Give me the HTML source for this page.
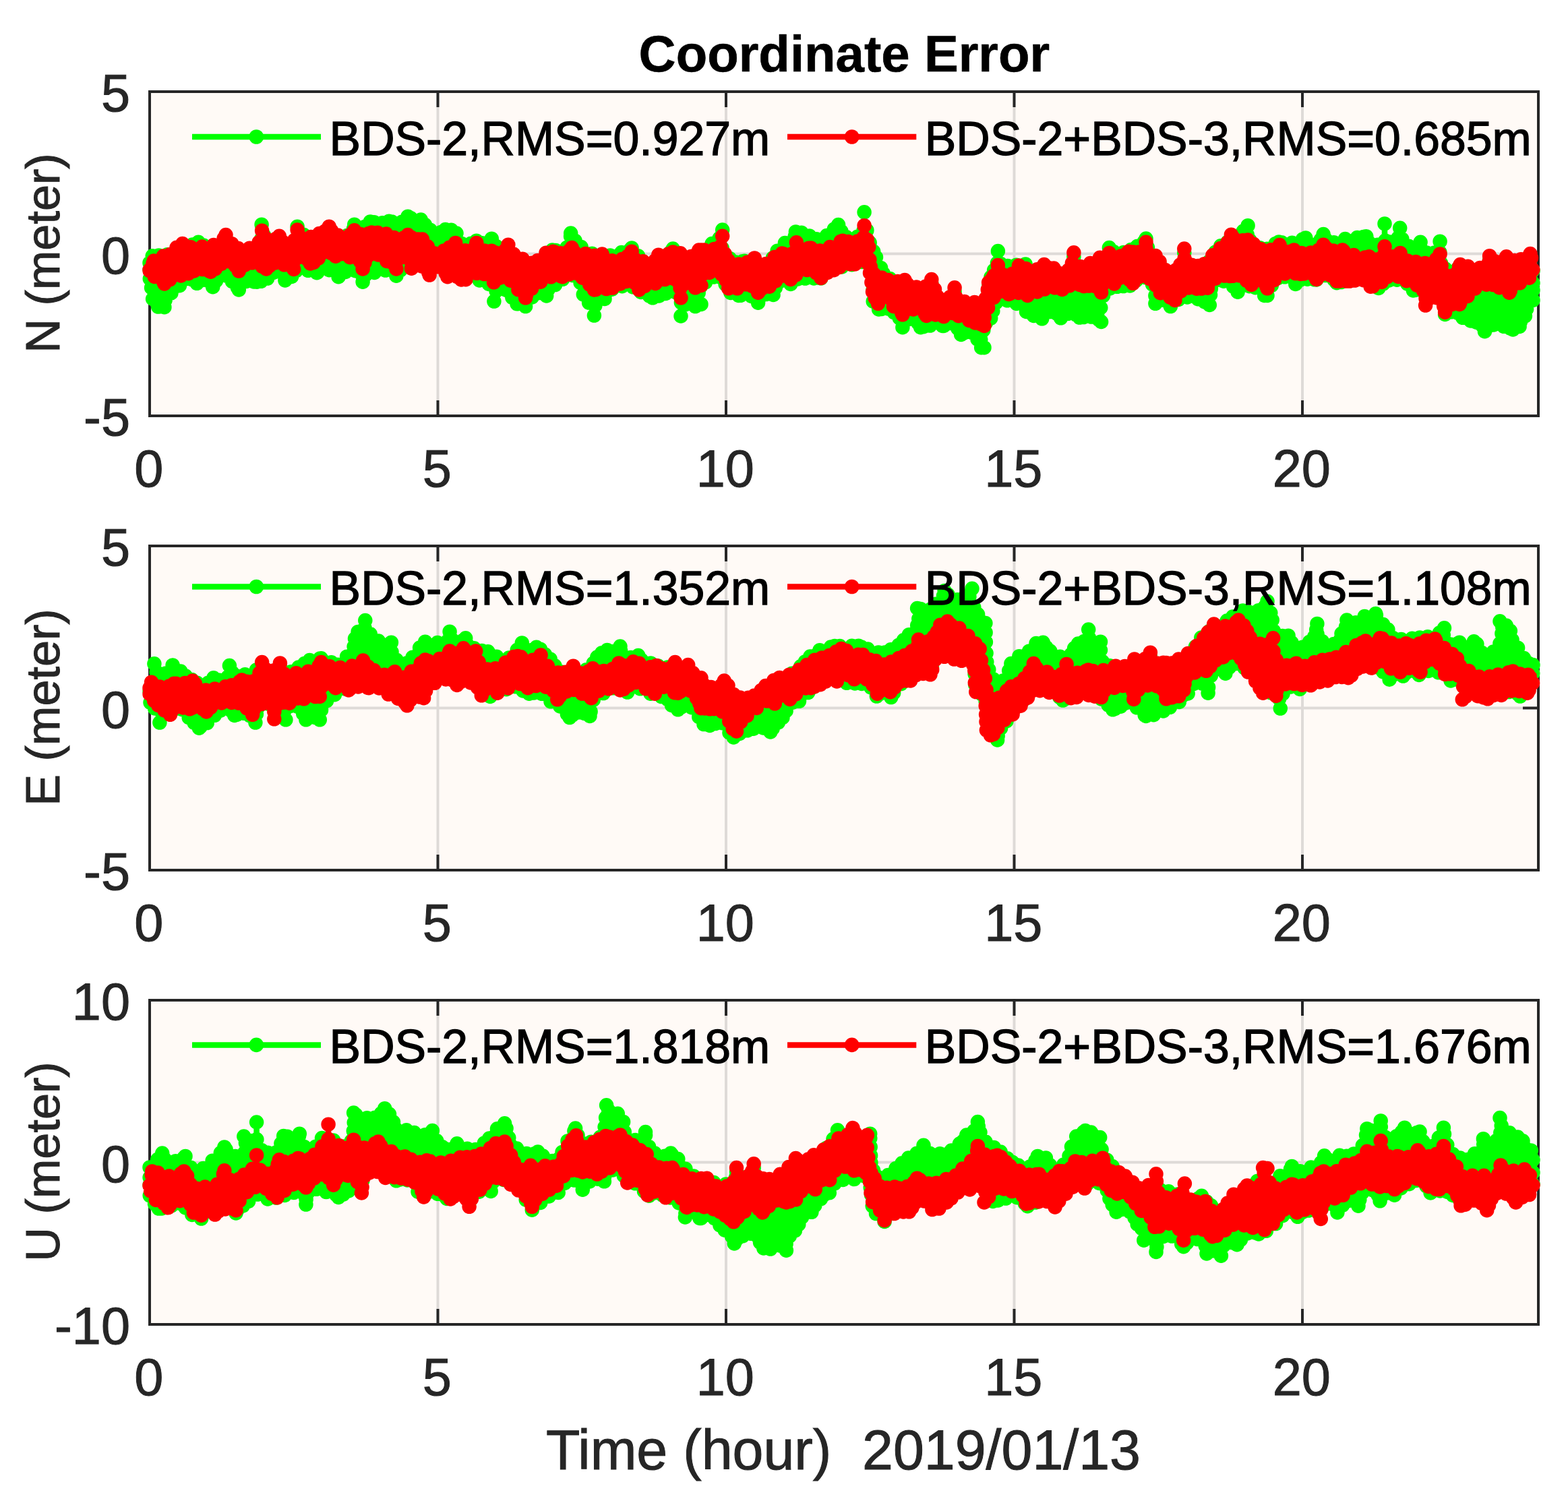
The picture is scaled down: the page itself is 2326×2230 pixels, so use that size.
<!DOCTYPE html>
<html lang="en"><head><meta charset="utf-8"><title>Coordinate Error</title>
<style>html,body{margin:0;padding:0;background:#fff}body{width:2326px;height:2230px;overflow:hidden}svg{display:block}text{font-family:"Liberation Sans", sans-serif}.t{stroke:#262626;stroke-width:1px}</style></head><body>
<svg width="2326" height="2230" viewBox="0 0 2326 2230">
<rect width="2326" height="2230" fill="#fff"/>
<g id="panel1">
<rect x="222" y="136" width="2060" height="481" fill="#fffaf6"/>
<path d="M649.5 136 V617 M1077.0 136 V617 M1504.5 136 V617 M1932.0 136 V617 M222 376.5 H2282" stroke="#dedad7" stroke-width="4" fill="none"/>
<path d="M649.5 136 v23 M649.5 617 v-23 M1077.0 136 v23 M1077.0 617 v-23 M1504.5 136 v23 M1504.5 617 v-23 M1932.0 136 v23 M1932.0 617 v-23 M222 376.5 h23 M2282 376.5 h-23" stroke="#262626" stroke-width="4" fill="none"/>
<rect x="222" y="136" width="2060" height="481" fill="none" stroke="#262626" stroke-width="4"/>
<g><path d="M222.0 412.5 224.0 420.4 226.1 441.2 228.2 451.0 231.2 454.9 238.3 455.3 250.2 437.4 263.0 428.7 272.1 415.6 276.9 413.1 282.2 413.2 292.5 418.9 298.0 416.1 301.0 415.1 304.1 415.0 307.1 415.8 309.7 417.5 315.1 421.9 327.4 410.0 332.6 408.5 335.3 408.8 340.0 411.3 349.2 424.4 352.9 426.9 359.5 420.3 362.0 418.4 364.9 417.3 380.8 418.1 393.2 416.6 404.5 405.3 407.0 403.4 409.8 402.4 412.8 402.1 415.8 402.8 418.5 404.2 426.6 414.0 431.1 412.4 439.5 401.4 441.8 400.0 446.9 398.9 469.4 404.3 481.8 400.5 484.8 400.0 487.9 400.4 502.5 409.0 516.2 401.3 518.6 400.3 523.8 400.2 534.8 405.4 537.3 407.2 539.4 409.8 542.5 407.4 544.9 406.6 577.3 400.0 582.1 401.2 587.9 405.7 593.2 401.4 614.6 389.0 620.1 387.5 623.1 388.0 625.9 389.2 635.0 398.9 639.7 393.4 644.0 390.4 646.5 389.8 651.7 390.4 655.9 393.3 662.7 401.1 667.0 404.3 676.8 403.8 686.9 408.9 694.6 408.5 700.2 409.9 718.0 419.8 729.8 422.5 734.1 426.4 736.1 431.7 739.3 429.1 742.1 428.1 745.0 427.8 747.9 428.4 750.5 429.8 752.7 431.9 769.4 453.9 775.5 454.3 794.4 435.8 796.8 434.7 801.9 434.4 807.5 436.6 813.1 429.7 815.9 427.2 825.0 421.8 836.2 413.0 839.9 411.1 850.3 408.5 855.8 410.0 859.8 414.2 865.8 438.8 871.4 448.3 878.7 451.0 882.0 454.5 883.5 452.4 892.6 447.1 901.0 440.1 906.5 430.9 908.6 428.4 911.3 426.6 914.4 425.8 931.5 423.6 936.9 424.3 947.1 431.5 958.6 437.3 968.8 441.2 980.8 438.0 995.8 432.2 998.8 432.2 1001.6 433.1 1004.1 434.6 1006.0 436.8 1012.3 454.3 1016.8 451.8 1019.6 451.4 1027.8 453.2 1032.7 447.9 1038.2 427.3 1040.7 422.7 1060.4 410.1 1063.4 409.6 1066.3 410.0 1069.0 411.1 1071.4 412.9 1082.7 433.6 1087.2 437.0 1096.2 438.5 1110.2 437.6 1114.9 439.5 1123.2 445.6 1128.5 439.9 1132.6 437.1 1137.5 436.4 1142.8 437.0 1147.0 432.2 1155.7 418.0 1160.8 415.2 1166.6 415.5 1173.3 419.5 1185.1 413.2 1213.8 412.8 1230.1 398.7 1234.4 396.5 1252.6 395.7 1284.1 387.1 1289.6 388.5 1291.8 390.2 1294.7 395.0 1295.2 447.7 1300.3 454.3 1306.6 458.6 1315.5 457.9 1318.6 458.0 1321.5 459.1 1332.6 469.5 1339.9 479.4 1344.9 474.5 1350.1 472.8 1355.4 473.9 1368.8 484.9 1383.5 482.5 1398.3 483.4 1409.4 479.3 1414.8 480.1 1419.2 483.4 1424.9 495.9 1435.2 492.2 1440.8 493.0 1445.2 496.6 1453.6 508.4 1461.4 480.4 1463.1 478.1 1469.1 474.2 1475.4 452.7 1476.6 450.0 1478.5 447.8 1480.9 446.1 1483.7 445.2 1486.6 445.0 1502.2 446.7 1515.5 455.5 1527.4 467.2 1536.3 469.1 1543.7 471.6 1555.4 463.0 1560.7 462.2 1565.8 464.0 1574.5 470.0 1583.8 465.4 1588.7 464.3 1593.6 465.5 1603.6 470.8 1618.2 469.8 1629.5 474.5 1632.5 469.7 1633.0 444.5 1635.4 440.0 1644.8 429.3 1646.9 427.5 1652.0 425.7 1676.4 423.8 1688.7 413.3 1694.0 410.8 1696.9 410.7 1702.3 412.9 1710.7 423.6 1712.8 428.8 1714.6 444.9 1716.6 447.3 1721.2 445.2 1724.3 445.0 1727.3 445.6 1730.0 447.1 1735.8 451.5 1741.9 446.3 1761.8 440.7 1779.4 444.1 1791.8 450.0 1794.6 446.9 1797.0 422.1 1800.1 417.6 1805.1 415.2 1810.5 415.5 1825.5 420.8 1828.9 424.0 1832.0 428.6 1835.0 430.5 1841.7 424.8 1846.5 423.5 1849.0 423.8 1871.7 428.8 1873.8 430.1 1877.7 434.6 1892.9 414.9 1895.3 412.6 1898.2 411.2 1901.4 410.7 1915.1 411.1 1917.8 412.3 1923.7 418.2 1930.9 414.2 1934.2 413.9 1950.6 414.8 1960.9 409.7 1966.3 408.6 1971.6 410.3 1985.3 419.2 1997.1 417.4 2015.1 409.8 2020.1 409.0 2024.9 410.5 2032.4 417.7 2044.9 425.4 2061.3 415.4 2064.3 415.0 2079.9 415.3 2084.7 418.1 2090.6 424.0 2099.2 430.4 2105.0 430.2 2128.5 434.9 2131.5 435.9 2134.0 437.8 2135.9 440.3 2148.7 464.1 2155.9 462.1 2158.9 462.4 2161.7 463.5 2174.1 475.3 2187.6 476.6 2198.6 483.0 2203.2 487.5 2209.9 482.3 2212.9 481.5 2228.9 483.7 2244.1 488.3 2253.7 484.9 2260.2 479.0 2264.7 458.4 2274.0 447.3 2274.0 393.4 2273.2 390.1 2268.3 385.3 2263.3 388.1 2249.7 393.1 2244.1 392.2 2235.9 388.4 2226.8 394.6 2221.5 395.2 2216.5 393.3 2212.2 390.1 2204.1 401.4 2198.8 403.8 2181.9 402.1 2165.4 398.6 2146.0 399.9 2140.9 397.5 2137.8 393.0 2135.2 368.8 2134.5 367.5 2128.7 374.7 2126.1 376.1 2123.2 376.8 2120.3 376.7 2112.1 373.3 2109.7 371.6 2104.5 364.4 2100.8 366.9 2098.3 367.7 2092.9 367.3 2090.5 366.1 2078.8 353.6 2076.2 349.5 2071.9 356.2 2069.8 357.8 2064.7 359.3 2062.0 359.1 2059.5 358.2 2055.6 354.9 2054.3 358.3 2052.6 360.5 2047.8 363.2 2045.1 363.6 2033.8 361.1 2030.9 359.9 2022.5 351.4 2011.0 352.8 2001.3 353.3 1994.3 354.7 1977.1 360.4 1974.2 360.1 1971.4 359.1 1963.1 351.7 1953.9 360.6 1948.9 363.3 1946.0 363.6 1940.6 361.9 1933.5 354.5 1913.1 361.4 1898.2 359.2 1889.5 362.4 1879.9 369.2 1874.7 370.0 1869.8 368.2 1854.6 357.6 1846.8 341.0 1831.8 352.7 1808.2 366.3 1788.2 395.9 1783.8 399.7 1778.2 400.6 1764.8 398.9 1760.4 395.8 1756.8 389.1 1753.4 395.6 1744.8 406.3 1742.7 408.3 1740.1 409.7 1737.2 410.3 1734.2 410.1 1731.5 409.1 1729.1 407.4 1727.2 405.1 1721.0 394.8 1712.3 382.8 1696.9 358.5 1681.5 369.2 1662.7 375.9 1659.5 376.5 1656.4 376.1 1648.3 371.4 1638.1 385.5 1624.0 391.4 1616.7 397.3 1612.6 399.3 1604.0 401.4 1601.0 401.7 1598.0 401.2 1595.3 399.8 1593.0 397.7 1591.3 394.6 1583.7 408.9 1578.8 412.0 1575.9 412.5 1570.3 411.0 1558.1 399.0 1551.8 398.7 1540.4 405.5 1534.9 405.8 1530.0 403.4 1517.5 392.3 1493.2 394.6 1490.0 394.5 1487.1 393.4 1484.5 391.5 1481.2 386.2 1469.8 411.5 1467.9 414.2 1464.2 443.8 1462.2 448.8 1458.0 452.2 1442.5 455.2 1438.9 455.2 1423.1 452.1 1420.5 450.3 1418.6 447.8 1414.5 440.8 1406.2 450.2 1400.9 452.1 1395.4 451.1 1391.1 447.5 1384.1 428.7 1380.8 425.0 1374.9 430.2 1369.8 432.6 1354.1 431.7 1351.0 431.0 1348.3 429.4 1336.7 420.2 1314.4 411.3 1310.9 407.0 1290.5 361.5 1284.7 336.9 1283.6 334.2 1280.6 343.3 1277.8 347.8 1268.2 353.6 1265.4 354.7 1262.4 355.0 1259.4 354.5 1256.7 353.1 1241.9 336.4 1239.5 337.8 1228.1 349.0 1212.9 354.9 1207.8 354.4 1194.6 346.0 1184.7 344.6 1177.1 352.9 1168.0 357.3 1155.4 368.4 1139.1 394.6 1135.1 398.3 1132.6 399.3 1129.8 399.6 1124.6 398.1 1114.3 388.4 1104.7 387.3 1092.6 389.3 1089.5 388.5 1086.9 387.0 1076.1 378.4 1073.9 375.9 1072.5 372.9 1066.4 351.1 1053.7 363.9 1029.8 385.6 1027.0 386.6 1023.9 386.7 1010.3 381.7 1007.4 379.9 997.7 371.8 983.6 381.8 970.0 394.1 964.5 395.3 961.6 394.8 956.9 391.6 939.6 371.7 936.4 369.5 929.1 373.2 925.2 374.3 914.0 375.2 897.4 382.3 894.3 383.1 891.1 382.9 888.1 381.8 862.9 367.3 846.2 350.0 842.6 364.0 841.4 366.8 839.6 369.2 837.1 371.0 834.3 372.0 822.4 371.4 811.2 379.5 796.7 393.4 792.0 396.0 789.3 396.4 784.1 395.1 760.6 382.2 757.4 379.6 748.0 368.1 736.5 365.5 733.3 364.2 727.3 357.8 722.4 360.8 719.9 361.4 714.9 360.8 707.0 357.9 694.7 362.8 689.0 363.5 686.2 362.6 681.8 358.9 677.2 346.3 671.4 341.4 662.7 340.7 649.9 346.3 644.7 346.0 640.3 343.3 630.1 333.1 621.8 326.9 619.3 327.2 616.0 326.4 606.5 322.6 598.4 328.4 593.4 330.3 577.5 328.4 566.6 330.8 562.8 330.9 552.0 329.4 540.2 337.2 534.7 337.8 528.3 335.3 512.1 352.3 507.5 355.2 504.9 355.7 499.6 354.6 487.8 345.1 478.5 351.6 463.2 354.5 460.0 354.5 456.9 353.6 454.2 351.8 445.0 343.5 435.5 364.6 433.3 366.6 430.7 367.9 427.8 368.5 424.9 368.3 422.1 367.3 409.0 355.4 394.1 351.6 390.3 347.9 383.7 365.8 382.1 368.6 379.8 370.8 377.0 372.3 361.7 377.1 359.2 377.0 354.5 375.2 343.8 367.7 334.1 358.2 322.3 367.3 319.7 368.8 316.9 369.5 313.9 369.5 311.1 368.5 293.6 360.2 274.6 366.7 250.4 377.3 246.9 378.1 223.9 380.0 222.0 381.8Z" fill="#00ff00" stroke="#00ff00" stroke-width="11.5" stroke-linejoin="round"/><path d="M294.3 359.3v21.5M335.0 354.6v21.5M388.1 333.2v21.5M441.1 336.2v21.5M488.2 342.2v21.5M525.7 333.2v21.5M549.3 328.9v21.5M577.1 328.2v21.5M605.0 321.2v21.5M624.3 326.1v21.5M660.7 340.5v21.5M706.8 357.2v21.5M729.3 354.2v21.5M819.3 371.1v21.5M846.7 346.0v21.5M937.1 367.9v21.5M998.2 369.0v21.5M1071.7 341.1v21.5M1104.3 387.2v21.5M1180.4 343.9v21.5M1243.6 333.6v21.5M1282.1 314.8v21.5M1381.8 420.6v21.5M1416.1 432.8v21.5M1480.4 372.6v21.5M1521.1 391.9v21.5M1548.9 398.5v21.5M1592.9 380.8v21.5M1645.4 367.5v21.5M1700.0 354.0v21.5M1756.8 375.0v21.5M1851.1 334.7v21.5M1897.1 358.9v21.5M1936.8 352.9v21.5M1963.1 347.5v21.5M2026.8 350.8v21.5M2054.0 331.9v21.5M2076.7 338.3v21.5M2107.1 359.3v21.5M2136.1 358.2v21.5M2166.1 398.5v21.5M2209.6 385.7v21.5M2234.6 386.8v21.5M2270.0 382.5v21.5M243.9 455.7v-21.5M292.1 420.3v-21.5M315.7 425.7v-21.5M354.3 430.0v-21.5M381.1 418.2v-21.5M422.9 416.0v-21.5M470.0 404.7v-21.5M502.1 410.7v-21.5M538.1 418.2v-21.5M587.9 409.2v-21.5M637.1 402.1v-21.5M663.9 404.7v-21.5M684.3 409.0v-21.5M732.9 447.1v-21.5M779.6 454.6v-21.5M810.7 439.0v-21.5M881.4 468.1v-21.5M968.2 441.8v-21.5M1010.0 469.0v-21.5M1031.4 454.6v-21.5M1040.0 451.4v-21.5M1095.7 438.5v-21.5M1124.6 449.2v-21.5M1147.1 437.5v-21.5M1172.9 421.4v-21.5M1217.9 412.8v-21.5M1303.6 458.9v-21.5M1338.9 485.7v-21.5M1365.7 485.7v-21.5M1400.0 483.5v-21.5M1425.7 496.4v-21.5M1455.7 515.7v-21.5M1460.0 515.7v-21.5M1545.7 472.8v-21.5M1573.6 471.8v-21.5M1601.4 471.1v-21.5M1633.6 477.5v-21.5M1713.9 450.3v-21.5M1736.4 454.6v-21.5M1794.3 452.5v-21.5M1836.1 433.2v-21.5M1875.7 438.5v-21.5M1880.0 438.5v-21.5M1921.8 421.4v-21.5M1952.9 415.0v-21.5M1982.9 419.7v-21.5M2045.0 427.4v-21.5M2096.4 431.0v-21.5M2143.6 466.4v-21.5M2202.5 491.7v-21.5M2244.3 488.9v-21.5" fill="none" stroke="#00ff00" stroke-width="8.5"/><path d="M222.3 413.6h0M224.6 426.9h0M226.6 443.5h0M234.6 455.1h0M245.3 444.8h0M253.9 434.9h0M266.4 423.7h0M276.0 413.6h0M285.2 414.9h0M297.2 416.5h0M306.4 415.6h0M320.5 416.6h0M336.0 409.2h0M344.5 417.7h0M352.4 426.6h0M365.5 417.4h0M376.5 417.9h0M387.2 417.3h0M396.7 413.1h0M405.6 404.5h0M419.4 405.3h0M432.6 410.5h0M439.4 401.6h0M457.0 401.3h0M471.1 403.8h0M488.4 400.7h0M503.3 408.5h0M512.5 403.4h0M527.0 401.7h0M536.1 406.3h0M542.8 407.3h0M555.4 404.5h0M571.8 401.1h0M585.3 403.7h0M593.9 401.0h0M608.9 392.3h0M625.7 389.2h0M633.6 397.3h0M643.1 391.0h0M656.8 394.4h0M670.7 404.1h0M680.5 405.7h0M694.3 408.6h0M711.3 416.0h0M725.2 421.5h0M736.1 431.7h0M751.1 430.3h0M759.8 441.3h0M767.0 450.8h0M779.0 450.9h0M789.2 440.9h0M799.3 434.6h0M813.1 429.6h0M823.6 422.6h0M834.6 414.3h0M850.0 408.6h0M861.1 419.4h0M865.3 436.8h0M873.6 449.1h0M882.8 453.4h0M897.0 443.4h0M907.9 429.2h0M922.9 424.7h0M939.0 425.8h0M950.9 433.4h0M963.5 439.2h0M977.7 438.9h0M987.6 435.4h0M1002.4 433.6h0M1010.4 448.8h0M1016.5 452.0h0M1031.2 449.6h0M1036.2 434.6h0M1039.4 425.0h0M1046.5 419.0h0M1059.1 410.9h0M1069.6 411.6h0M1076.1 421.6h0M1083.9 434.5h0M1098.5 438.3h0M1114.6 439.4h0M1125.9 442.7h0M1136.2 436.6h0M1144.4 435.1h0M1150.3 426.9h0M1156.2 417.8h0M1169.3 417.1h0M1183.5 414.0h0M1194.4 413.1h0M1207.3 412.9h0M1222.7 405.1h0M1233.0 397.2h0M1248.9 395.9h0M1263.7 392.7h0M1278.8 388.6h0M1291.6 390.0h0M1294.7 403.6h0M1294.9 419.6h0M1295.0 430.3h0M1295.2 447.2h0M1307.9 458.5h0M1317.4 458.0h0M1326.3 463.6h0M1334.3 471.9h0M1340.3 479.1h0M1348.6 473.3h0M1362.0 479.3h0M1370.1 484.7h0M1379.7 483.1h0M1398.1 483.4h0M1410.3 479.5h0M1421.0 487.4h0M1429.1 494.4h0M1441.0 493.2h0M1449.9 503.2h0M1454.8 504.0h0M1458.8 489.8h0M1462.5 479.0h0M1469.7 472.1h0M1472.8 461.4h0M1477.3 449.2h0M1494.2 445.8h0M1508.0 450.5h0M1522.5 462.4h0M1533.4 468.5h0M1544.3 471.1h0M1557.8 462.6h0M1567.9 465.5h0M1584.3 465.3h0M1596.5 467.1h0M1607.3 470.6h0M1618.9 470.1h0M1629.8 474.1h0M1632.8 456.5h0M1636.6 438.6h0M1646.4 427.9h0M1657.3 425.3h0M1666.4 424.6h0M1676.2 423.9h0M1685.3 416.2h0M1698.9 411.6h0M1709.5 422.0h0M1713.9 438.7h0M1724.0 445.0h0M1734.8 450.7h0M1748.2 444.5h0M1761.2 440.9h0M1777.1 443.7h0M1787.1 447.8h0M1795.5 437.5h0M1796.4 428.3h0M1803.2 416.1h0M1815.2 417.2h0M1829.7 425.2h0M1837.1 428.6h0M1853.4 424.7h0M1862.2 426.7h0M1876.5 433.2h0M1886.4 423.3h0M1895.4 412.6h0M1905.8 410.8h0M1918.2 412.7h0M1928.6 415.5h0M1939.4 414.2h0M1950.0 414.8h0M1966.1 408.6h0M1978.9 415.0h0M1989.4 418.6h0M2003.9 414.5h0M2018.3 409.3h0M2027.4 412.9h0M2039.2 421.9h0M2051.8 421.2h0M2060.4 415.9h0M2072.3 415.2h0M2087.9 421.2h0M2099.4 430.4h0M2110.5 431.3h0M2123.2 433.8h0M2135.1 439.3h0M2142.9 453.3h0M2153.9 462.7h0M2163.0 464.7h0M2169.8 471.3h0M2181.6 476.0h0M2190.3 478.2h0M2199.3 483.7h0M2206.9 484.7h0M2215.8 481.9h0M2230.8 484.3h0M2240.4 487.2h0M2254.1 484.5h0M2262.4 468.8h0M2264.6 458.6h0M2274.0 445.4h0M2274.0 430.6h0M2274.0 419.9h0M2274.0 401.4h0M2269.6 386.6h0M2258.5 389.9h0M2241.5 391.0h0M2232.7 390.6h0M2217.0 393.4h0M2205.4 399.5h0M2196.7 403.6h0M2178.7 401.4h0M2162.2 398.8h0M2144.2 399.1h0M2137.5 390.3h0M2135.8 374.0h0M2127.9 375.1h0M2116.2 375.0h0M2108.5 370.0h0M2102.6 365.7h0M2089.7 365.3h0M2079.8 354.7h0M2074.1 352.8h0M2061.5 358.9h0M2054.8 357.0h0M2043.7 363.3h0M2030.3 359.4h0M2022.6 351.5h0M2013.3 352.5h0M1995.4 354.5h0M1978.7 359.8h0M1966.0 354.3h0M1959.2 355.5h0M1947.7 363.4h0M1932.5 354.9h0M1916.7 360.2h0M1901.1 359.7h0M1892.2 361.4h0M1879.7 369.2h0M1868.9 367.7h0M1854.0 356.4h0M1850.2 348.1h0M1844.2 343.1h0M1830.0 353.8h0M1821.2 358.9h0M1810.8 364.8h0M1803.1 373.9h0M1793.1 388.6h0M1782.4 399.9h0M1764.4 398.6h0M1757.5 390.5h0M1752.7 396.4h0M1745.0 406.1h0M1730.1 408.1h0M1721.6 395.7h0M1711.0 380.7h0M1702.4 367.1h0M1697.1 358.8h0M1687.3 365.2h0M1677.7 370.5h0M1666.7 374.5h0M1652.0 373.6h0M1642.9 378.8h0M1630.4 388.7h0M1622.3 392.8h0M1606.4 400.8h0M1596.2 400.3h0M1587.2 402.3h0M1574.7 412.1h0M1566.8 407.5h0M1555.9 398.9h0M1539.0 405.6h0M1530.5 403.6h0M1519.9 394.5h0M1507.6 393.2h0M1494.8 394.5h0M1484.6 391.6h0M1479.4 390.2h0M1474.6 400.9h0M1470.0 411.0h0M1466.9 422.3h0M1464.7 440.2h0M1454.1 453.0h0M1442.7 455.1h0M1433.5 454.1h0M1422.2 451.5h0M1411.7 443.9h0M1403.9 451.0h0M1390.7 446.3h0M1387.2 437.0h0M1381.7 425.9h0M1373.5 430.9h0M1358.8 432.0h0M1347.0 428.3h0M1333.4 418.8h0M1320.2 413.6h0M1310.4 405.8h0M1306.6 397.4h0M1299.5 381.5h0M1295.7 373.0h0M1290.2 360.1h0M1285.9 341.7h0M1280.8 342.8h0M1272.0 351.3h0M1255.6 351.8h0M1247.9 343.2h0M1237.4 339.9h0M1226.4 349.6h0M1211.2 354.8h0M1200.7 349.9h0M1188.9 345.2h0M1179.3 350.5h0M1164.4 360.5h0M1153.1 372.2h0M1146.5 382.7h0M1137.1 396.5h0M1123.5 397.1h0M1115.2 389.2h0M1101.6 387.8h0M1091.8 389.1h0M1082.4 383.4h0M1075.0 377.1h0M1071.2 368.2h0M1067.1 353.6h0M1056.1 361.6h0M1043.3 373.4h0M1035.0 380.9h0M1018.9 384.8h0M1007.5 380.0h0M995.2 373.6h0M983.0 382.3h0M972.8 391.5h0M958.7 392.8h0M946.6 379.7h0M935.1 370.2h0M921.9 374.6h0M905.1 379.0h0M889.5 382.3h0M878.3 376.2h0M862.2 366.6h0M853.1 357.2h0M846.6 350.4h0M841.1 367.2h0M824.4 371.5h0M812.4 378.7h0M800.4 389.9h0M786.6 395.7h0M777.6 391.5h0M762.7 383.4h0M751.9 372.8h0M735.8 365.2h0M725.3 359.0h0M714.2 360.5h0M698.6 361.3h0M684.9 361.5h0M677.0 346.1h0M669.3 341.2h0M654.2 344.4h0M638.2 341.2h0M630.5 333.6h0M622.6 327.6h0M609.5 323.8h0M596.3 329.2h0M581.2 328.9h0M567.2 330.7h0M554.9 329.8h0M541.0 336.6h0M524.5 339.3h0M514.8 349.5h0M504.0 355.5h0M488.5 345.7h0M479.7 350.8h0M465.6 354.0h0M450.3 348.2h0M441.0 352.4h0M433.1 366.7h0M419.0 364.4h0M409.0 355.4h0M391.7 349.3h0M387.8 354.4h0M383.1 366.8h0M372.2 373.8h0M356.7 376.0h0M346.7 369.7h0M338.5 362.4h0M328.3 362.7h0M315.0 369.5h0M301.9 364.1h0M285.5 363.0h0M272.6 367.6h0M262.5 372.0h0M248.2 377.8h0M235.4 379.1h0M226.2 379.8h0M222.0 389.9h0M222.0 400.0h0M294.3 359.3h0M335.0 354.6h0M388.1 333.2h0M441.1 336.2h0M488.2 342.2h0M525.7 333.2h0M549.3 328.9h0M577.1 328.2h0M605.0 321.2h0M624.3 326.1h0M660.7 340.5h0M706.8 357.2h0M729.3 354.2h0M819.3 371.1h0M846.7 346.0h0M937.1 367.9h0M998.2 369.0h0M1071.7 341.1h0M1104.3 387.2h0M1180.4 343.9h0M1243.6 333.6h0M1282.1 314.8h0M1381.8 420.6h0M1416.1 432.8h0M1480.4 372.6h0M1521.1 391.9h0M1548.9 398.5h0M1592.9 380.8h0M1645.4 367.5h0M1700.0 354.0h0M1756.8 375.0h0M1851.1 334.7h0M1897.1 358.9h0M1936.8 352.9h0M1963.1 347.5h0M2026.8 350.8h0M2054.0 331.9h0M2076.7 338.3h0M2107.1 359.3h0M2136.1 358.2h0M2166.1 398.5h0M2209.6 385.7h0M2234.6 386.8h0M2270.0 382.5h0M243.9 455.7h0M292.1 420.3h0M315.7 425.7h0M354.3 430.0h0M381.1 418.2h0M422.9 416.0h0M470.0 404.7h0M502.1 410.7h0M538.1 418.2h0M587.9 409.2h0M637.1 402.1h0M663.9 404.7h0M684.3 409.0h0M732.9 447.1h0M779.6 454.6h0M810.7 439.0h0M881.4 468.1h0M968.2 441.8h0M1010.0 469.0h0M1031.4 454.6h0M1040.0 451.4h0M1095.7 438.5h0M1124.6 449.2h0M1147.1 437.5h0M1172.9 421.4h0M1217.9 412.8h0M1303.6 458.9h0M1338.9 485.7h0M1365.7 485.7h0M1400.0 483.5h0M1425.7 496.4h0M1455.7 515.7h0M1460.0 515.7h0M1545.7 472.8h0M1573.6 471.8h0M1601.4 471.1h0M1633.6 477.5h0M1713.9 450.3h0M1736.4 454.6h0M1794.3 452.5h0M1836.1 433.2h0M1875.7 438.5h0M1880.0 438.5h0M1921.8 421.4h0M1952.9 415.0h0M1982.9 419.7h0M2045.0 427.4h0M2096.4 431.0h0M2143.6 466.4h0M2202.5 491.7h0M2244.3 488.9h0" fill="none" stroke="#00ff00" stroke-width="21.5" stroke-linecap="round"/><path d="M222.0 401.6 230.5 411.9 243.9 419.4 256.9 412.1 277.8 406.5 294.2 399.1 299.2 399.3 311.5 402.5 322.3 397.5 329.5 390.3 334.1 387.5 336.8 387.1 342.0 388.3 354.8 399.0 367.2 390.1 372.3 389.3 381.3 391.9 394.2 397.6 405.5 390.8 410.4 389.3 415.4 390.2 431.4 397.0 438.4 385.7 440.3 383.4 442.8 381.7 445.7 380.8 448.7 380.7 451.6 381.5 463.0 390.0 469.2 388.5 476.1 376.6 478.2 374.8 483.4 373.2 488.8 374.3 498.6 379.3 507.5 376.4 512.6 377.2 524.9 385.7 534.8 388.3 537.1 389.8 539.4 392.6 545.1 380.5 547.4 378.4 550.1 377.0 553.1 376.4 556.2 376.7 564.8 378.9 569.3 381.2 577.9 393.2 583.5 395.8 591.0 383.8 595.6 381.1 600.9 380.9 605.7 383.4 614.1 395.2 617.6 393.8 620.1 393.5 623.1 394.0 625.9 395.2 635.0 404.9 641.7 397.6 646.5 395.8 649.1 395.8 654.0 397.6 662.7 407.1 667.0 410.3 676.8 409.8 686.9 414.9 691.2 414.7 699.2 408.6 702.3 406.9 708.7 404.8 711.8 404.3 714.8 404.6 728.4 412.2 733.6 416.4 741.7 412.1 744.9 411.8 748.1 412.4 758.8 416.7 762.1 420.2 767.1 428.6 775.5 433.6 780.2 437.9 785.3 433.7 790.8 424.5 794.3 420.9 808.3 415.9 820.5 409.0 825.7 408.7 834.3 410.5 840.8 409.2 848.1 404.8 851.0 404.3 853.9 404.5 856.7 405.6 859.0 407.4 873.5 420.8 877.9 426.1 884.1 429.8 897.3 428.9 913.3 426.3 921.9 419.5 927.0 417.2 940.9 418.9 945.1 421.7 950.3 427.5 958.0 423.6 961.8 422.5 970.1 421.7 978.8 416.5 982.5 415.1 998.0 412.9 1003.0 414.6 1006.6 418.5 1009.9 430.2 1010.7 426.2 1012.0 423.8 1016.2 420.2 1021.7 419.3 1026.7 421.1 1031.6 410.4 1033.7 408.4 1036.3 407.0 1039.2 406.4 1042.1 406.6 1045.1 407.7 1047.8 405.5 1050.2 404.6 1063.6 404.2 1068.6 405.5 1070.8 407.0 1085.9 427.8 1091.4 427.8 1104.3 422.3 1109.3 421.4 1114.2 423.0 1124.4 431.9 1132.6 426.4 1142.7 425.0 1147.8 420.5 1153.5 412.8 1155.7 410.7 1158.4 409.2 1161.4 408.6 1164.5 408.8 1173.6 413.4 1179.2 411.2 1181.0 406.9 1185.2 403.2 1198.6 400.2 1201.6 400.0 1204.5 400.7 1207.2 402.1 1217.6 409.8 1223.9 405.3 1233.4 402.7 1253.7 391.8 1264.1 391.7 1272.9 384.0 1278.5 382.8 1283.9 384.7 1287.6 389.0 1292.7 417.5 1294.8 435.5 1299.3 444.6 1301.8 446.6 1307.8 441.1 1310.4 440.0 1316.0 440.0 1320.8 442.7 1322.5 444.9 1325.9 455.9 1333.2 461.8 1338.1 464.7 1346.4 458.7 1351.6 457.9 1367.0 462.7 1376.6 468.2 1392.7 466.5 1399.4 468.6 1408.2 464.5 1413.2 464.5 1428.0 471.6 1454.5 482.2 1458.8 474.7 1468.2 449.8 1478.7 434.7 1484.0 432.3 1489.7 432.9 1497.6 436.0 1509.9 434.3 1523.7 437.9 1532.4 434.6 1544.1 431.6 1556.1 426.0 1560.9 425.9 1574.5 429.0 1586.0 423.9 1597.4 421.4 1609.0 424.5 1622.5 423.7 1627.4 425.9 1633.5 430.7 1633.9 425.0 1634.9 422.5 1636.5 420.4 1641.0 417.6 1646.2 417.3 1651.3 419.2 1661.3 411.6 1666.5 410.7 1671.5 412.4 1680.1 417.9 1689.1 410.8 1694.2 408.6 1699.7 409.3 1712.5 418.8 1720.6 434.4 1740.2 443.0 1747.7 434.6 1750.9 432.2 1762.5 426.9 1775.6 428.2 1790.4 427.9 1796.8 422.8 1804.1 411.4 1806.5 409.7 1809.3 408.7 1824.3 409.6 1839.3 408.8 1842.3 409.8 1852.1 419.0 1855.5 420.7 1863.6 415.6 1869.4 415.2 1874.5 417.9 1880.1 426.5 1881.8 425.7 1892.6 413.0 1907.3 405.4 1910.3 404.4 1929.4 406.3 1941.5 405.4 1946.3 407.3 1952.9 412.1 1961.9 406.0 1967.5 405.5 1972.6 407.8 1978.4 412.6 1985.8 417.1 2001.5 417.1 2018.0 415.0 2021.2 415.1 2024.3 416.2 2032.1 423.4 2035.3 425.0 2041.1 424.3 2050.9 417.4 2058.8 410.1 2061.2 409.0 2066.4 408.7 2079.4 411.6 2088.6 418.2 2099.8 421.9 2103.4 424.0 2112.8 432.5 2114.7 437.8 2115.3 447.5 2120.7 442.3 2123.2 441.2 2128.6 440.9 2131.1 441.8 2135.2 445.3 2144.0 457.5 2148.6 453.0 2151.3 451.8 2162.1 451.4 2172.6 445.4 2180.4 434.8 2190.0 426.3 2192.6 424.6 2195.5 423.7 2209.4 421.5 2212.8 421.5 2238.0 432.9 2246.1 427.9 2257.7 416.7 2268.5 412.1 2273.7 407.6 2274.0 385.1 2268.3 379.3 2263.3 382.1 2249.7 387.1 2244.1 386.2 2235.9 382.4 2226.8 388.6 2221.5 389.2 2216.5 387.3 2212.2 384.1 2204.1 395.4 2198.8 397.8 2181.9 396.1 2167.8 393.1 2164.9 394.7 2161.0 404.1 2157.4 408.7 2154.9 410.1 2149.1 410.6 2146.4 409.7 2142.0 405.8 2135.8 387.2 2133.2 382.6 2124.3 389.3 2121.7 390.8 2118.7 391.4 2103.4 388.8 2085.4 386.6 2081.3 384.0 2074.8 377.5 2067.0 380.6 2064.1 380.7 2058.8 378.5 2055.2 374.4 2050.3 382.0 2047.9 383.8 2045.1 384.8 2042.1 385.0 2039.2 384.4 2030.1 381.1 2021.2 382.7 2017.8 382.8 2014.5 381.8 2004.3 376.7 1989.9 371.2 1977.2 372.2 1972.5 371.4 1963.5 365.7 1952.8 373.4 1937.5 376.3 1932.3 375.9 1919.3 371.6 1910.7 373.9 1907.8 374.3 1904.8 373.9 1902.1 372.7 1899.9 370.8 1895.6 366.0 1884.6 371.2 1879.8 372.2 1873.1 370.8 1869.5 369.2 1859.4 362.0 1848.8 356.4 1837.8 357.1 1833.1 355.2 1828.2 351.8 1817.6 363.4 1805.5 371.8 1785.4 392.8 1780.7 394.6 1778.2 394.6 1764.8 392.9 1760.4 389.8 1756.8 383.1 1753.4 389.6 1744.8 400.3 1742.7 402.3 1740.1 403.7 1737.2 404.3 1734.2 404.1 1731.5 403.1 1729.1 401.4 1714.3 379.5 1703.5 373.7 1698.6 366.7 1695.3 370.6 1691.2 373.5 1686.3 374.3 1676.4 373.5 1661.3 380.6 1658.3 380.7 1655.4 380.0 1645.7 376.3 1624.0 385.4 1614.8 392.5 1604.0 395.4 1601.0 395.7 1598.0 395.2 1595.3 393.8 1593.0 391.7 1591.3 388.6 1583.7 402.9 1578.8 406.0 1573.0 406.1 1570.3 405.0 1558.1 393.0 1551.8 392.7 1542.9 398.4 1539.7 399.7 1536.3 400.0 1523.4 398.9 1514.6 396.0 1506.4 404.9 1494.8 408.3 1491.7 408.6 1488.7 408.0 1485.9 406.6 1480.9 401.0 1475.4 408.3 1472.8 409.9 1467.6 411.0 1464.2 437.8 1462.2 442.8 1458.0 446.2 1455.3 447.0 1442.5 449.2 1438.9 449.2 1423.1 446.1 1420.5 444.3 1418.6 441.8 1414.5 434.8 1406.2 444.2 1400.9 446.1 1395.4 445.1 1391.1 441.5 1384.1 422.7 1380.8 419.0 1374.9 424.2 1369.8 426.6 1354.1 425.7 1351.0 425.0 1348.3 423.4 1339.3 416.2 1329.1 418.1 1323.7 417.7 1309.8 413.0 1295.8 406.2 1293.9 404.3 1291.9 399.4 1289.6 383.4 1288.6 363.3 1283.6 346.6 1279.8 354.3 1275.4 357.5 1264.2 359.2 1250.4 357.4 1245.5 358.6 1232.7 366.0 1217.4 372.0 1212.3 371.6 1201.6 368.1 1190.3 368.8 1187.6 367.9 1184.1 365.4 1179.9 372.3 1177.9 374.7 1175.3 376.5 1172.4 377.4 1169.2 377.4 1160.5 376.2 1154.0 377.8 1136.7 391.3 1132.0 393.4 1129.4 393.6 1124.5 392.1 1117.2 385.2 1110.2 388.6 1099.1 392.5 1085.4 390.7 1081.1 387.7 1079.7 385.5 1072.2 370.5 1069.9 364.7 1066.8 367.5 1055.5 370.8 1040.6 371.1 1031.8 378.3 1026.6 380.6 1021.0 380.0 1011.4 376.1 999.3 374.2 990.1 377.5 981.1 378.2 970.4 387.9 965.7 389.3 944.0 386.4 939.3 383.0 935.1 377.5 928.5 382.0 921.0 385.2 917.8 386.1 903.1 387.0 898.0 384.6 890.2 377.9 880.0 379.7 867.8 376.6 858.4 377.4 855.5 376.6 853.0 375.0 847.3 370.1 840.1 374.7 834.7 376.5 820.1 373.5 809.4 375.3 796.7 387.4 792.0 390.0 789.3 390.4 784.1 389.1 760.6 376.2 757.4 373.6 753.0 368.2 744.9 375.3 742.0 376.3 739.0 376.4 727.2 372.2 715.8 371.8 711.0 369.0 706.2 364.2 699.8 369.6 695.4 371.9 683.5 371.8 680.8 370.6 678.5 368.7 673.6 363.3 653.3 375.0 650.4 376.1 647.4 376.5 644.4 375.9 641.7 374.5 631.6 362.6 622.5 355.0 615.4 354.7 605.0 349.9 597.0 353.9 592.1 355.0 587.3 353.9 573.8 347.1 563.2 345.4 552.7 345.0 538.8 348.6 533.5 347.3 526.6 343.7 518.4 349.1 515.0 349.7 504.3 349.7 499.5 348.5 487.8 339.1 478.5 345.6 465.8 348.0 459.3 352.9 454.4 354.9 451.7 355.0 446.6 353.1 442.2 348.3 434.4 359.7 429.7 362.2 427.1 362.5 421.9 361.2 412.5 352.7 406.5 355.9 400.9 357.2 395.4 355.4 390.1 349.7 382.8 361.7 379.2 365.2 361.7 371.1 359.2 371.0 354.5 369.2 343.8 361.7 334.1 352.2 322.3 361.3 317.3 363.5 295.9 366.7 283.6 366.8 279.4 366.0 271.1 362.5 262.3 366.9 252.0 377.9 247.0 379.6 238.0 380.5 227.4 387.5 222.0 390.0Z" fill="#ff0000" stroke="#ff0000" stroke-width="11.5" stroke-linejoin="round"/><path d="M270.7 361.5v21.5M335.0 348.6v21.5M388.6 342.2v21.5M414.3 350.3v21.5M441.1 341.1v21.5M488.2 336.2v21.5M525.7 341.8v21.5M551.4 345.0v21.5M605.0 348.6v21.5M626.4 355.0v21.5M675.7 360.4v21.5M706.8 360.4v21.5M729.3 372.2v21.5M753.9 363.2v21.5M820.4 373.2v21.5M848.2 367.5v21.5M868.6 376.5v21.5M893.2 377.1v21.5M937.1 373.2v21.5M976.8 378.2v21.5M998.2 373.9v21.5M1036.8 371.1v21.5M1040.0 371.1v21.5M1071.7 350.3v21.5M1119.3 382.9v21.5M1160.0 376.0v21.5M1181.4 359.8v21.5M1202.9 367.9v21.5M1250.0 357.2v21.5M1282.1 334.7v21.5M1342.1 415.5v21.5M1381.8 414.6v21.5M1416.1 426.8v21.5M1480.4 393.6v21.5M1511.4 394.0v21.5M1548.9 392.5v21.5M1592.9 374.8v21.5M1645.4 375.4v21.5M1674.3 373.2v21.5M1700.0 359.3v21.5M1756.8 369.0v21.5M1826.4 348.2v21.5M1851.1 356.1v21.5M1898.2 363.6v21.5M1919.6 371.1v21.5M1963.1 363.2v21.5M1991.4 371.1v21.5M2031.1 380.8v21.5M2054.0 365.8v21.5M2077.1 375.4v21.5M2136.1 376.9v21.5M2166.1 392.5v21.5M2209.6 379.7v21.5M2234.6 380.8v21.5M2270.0 376.5v21.5M243.9 421.0v-21.5M312.5 403.2v-21.5M354.3 402.1v-21.5M395.0 398.9v-21.5M435.7 399.5v-21.5M460.4 391.0v-21.5M497.9 380.2v-21.5M538.1 398.9v-21.5M587.9 398.9v-21.5M610.4 398.2v-21.5M637.1 408.1v-21.5M663.9 410.7v-21.5M684.3 415.0v-21.5M732.5 418.8v-21.5M779.6 441.8v-21.5M834.3 410.7v-21.5M881.4 430.0v-21.5M947.9 430.0v-21.5M1010.0 441.8v-21.5M1031.4 426.8v-21.5M1040.0 423.5v-21.5M1080.7 427.8v-21.5M1093.6 427.8v-21.5M1124.6 434.2v-21.5M1172.9 414.5v-21.5M1217.9 412.4v-21.5M1268.2 391.8v-21.5M1302.5 450.3v-21.5M1338.9 466.8v-21.5M1374.3 468.5v-21.5M1400.0 469.6v-21.5M1460.0 483.5v-21.5M1460.0 483.5v-21.5M1496.4 436.4v-21.5M1524.3 438.5v-21.5M1575.7 429.5v-21.5M1607.9 424.6v-21.5M1633.6 433.8v-21.5M1652.9 421.0v-21.5M1680.7 420.3v-21.5M1742.9 445.4v-21.5M1775.0 428.2v-21.5M1824.3 409.6v-21.5M1856.4 422.5v-21.5M1880.0 427.8v-21.5M1880.0 427.8v-21.5M1929.3 406.4v-21.5M1952.9 414.5v-21.5M1982.9 417.1v-21.5M2002.1 417.1v-21.5M2033.2 425.2v-21.5M2114.6 453.1v-21.5M2143.6 463.2v-21.5M2165.0 451.4v-21.5M2238.9 434.2v-21.5" fill="none" stroke="#ff0000" stroke-width="8.5"/><path d="M222.2 401.9h0M229.3 410.4h0M242.9 418.8h0M251.9 414.8h0M268.4 409.0h0M279.6 405.7h0M287.9 402.0h0M300.6 399.6h0M310.9 402.4h0M319.3 398.9h0M328.3 391.5h0M340.5 387.9h0M349.2 394.3h0M363.1 393.1h0M374.0 389.8h0M389.0 395.3h0M400.0 394.1h0M409.0 389.7h0M421.6 392.8h0M434.2 392.5h0M442.7 381.8h0M456.6 385.3h0M465.2 389.5h0M472.3 383.1h0M478.2 374.8h0M491.4 375.7h0M507.7 376.5h0M519.1 381.7h0M534.7 388.2h0M541.0 389.4h0M546.2 379.5h0M560.9 377.9h0M573.8 387.5h0M585.5 392.6h0M591.1 383.8h0M604.3 382.7h0M611.4 391.4h0M625.4 395.0h0M635.7 404.2h0M648.3 395.8h0M661.3 405.6h0M678.3 410.6h0M690.9 414.7h0M707.1 405.3h0M718.4 406.6h0M733.3 416.2h0M742.2 412.0h0M757.5 416.2h0M768.9 429.7h0M780.6 437.6h0M788.6 428.1h0M801.8 418.2h0M817.2 410.8h0M832.8 410.2h0M844.4 407.0h0M857.5 406.2h0M864.2 412.2h0M874.6 422.1h0M883.8 429.6h0M899.5 428.6h0M908.5 427.1h0M920.1 420.9h0M929.3 417.5h0M941.5 419.3h0M956.3 424.5h0M972.2 420.5h0M986.2 414.6h0M998.7 413.1h0M1006.6 418.6h0M1009.1 427.5h0M1015.7 420.7h0M1029.7 414.5h0M1042.3 406.7h0M1052.3 404.5h0M1070.4 406.8h0M1077.1 415.8h0M1082.7 423.4h0M1094.3 426.6h0M1106.9 421.8h0M1115.7 424.3h0M1130.0 428.2h0M1141.3 425.2h0M1150.6 416.8h0M1157.0 410.0h0M1165.7 409.4h0M1180.6 407.9h0M1197.0 400.6h0M1210.8 404.8h0M1218.4 409.2h0M1227.5 404.3h0M1237.1 400.7h0M1245.1 396.4h0M1260.9 391.7h0M1271.9 384.9h0M1280.7 383.6h0M1288.1 391.5h0M1290.5 404.9h0M1292.9 418.9h0M1294.5 433.0h0M1298.3 442.5h0M1310.9 440.0h0M1320.2 442.4h0M1325.4 454.5h0M1337.8 464.5h0M1346.0 459.0h0M1354.9 458.9h0M1372.4 465.8h0M1387.7 467.0h0M1398.3 468.3h0M1412.9 464.5h0M1422.0 468.7h0M1437.8 475.5h0M1446.5 479.0h0M1455.3 480.9h0M1460.2 470.9h0M1465.6 456.6h0M1474.1 441.3h0M1481.8 433.2h0M1497.7 436.0h0M1510.7 434.5h0M1523.8 437.9h0M1538.7 433.0h0M1549.4 429.1h0M1564.7 426.8h0M1576.7 428.0h0M1586.4 423.8h0M1601.4 422.5h0M1615.2 424.1h0M1624.4 424.6h0M1634.6 423.4h0M1648.6 418.2h0M1659.8 412.8h0M1675.3 414.8h0M1688.7 411.2h0M1697.4 409.0h0M1705.5 413.6h0M1714.9 423.4h0M1721.4 434.7h0M1735.9 441.1h0M1744.1 438.6h0M1751.8 431.8h0M1763.5 427.0h0M1782.3 428.1h0M1791.3 427.2h0M1803.0 413.1h0M1816.3 409.1h0M1828.8 409.3h0M1838.8 408.8h0M1849.4 416.5h0M1860.4 417.6h0M1869.3 415.2h0M1878.4 423.9h0M1890.4 415.5h0M1906.1 406.0h0M1921.8 405.6h0M1934.6 405.9h0M1950.8 410.6h0M1958.6 408.2h0M1973.3 408.4h0M1986.6 417.1h0M1997.1 417.1h0M2009.7 416.1h0M2022.7 415.7h0M2036.4 424.8h0M2049.4 418.5h0M2057.9 410.9h0M2074.3 410.5h0M2086.5 416.7h0M2101.9 423.1h0M2111.4 431.2h0M2115.0 442.7h0M2120.8 442.3h0M2131.0 441.7h0M2141.7 454.3h0M2153.6 451.7h0M2165.9 449.2h0M2177.0 439.5h0M2187.9 428.1h0M2205.1 422.2h0M2215.1 422.6h0M2224.2 426.7h0M2240.3 431.5h0M2254.5 419.8h0M2268.5 412.2h0M2273.8 400.1h0M2271.5 382.5h0M2256.3 384.7h0M2246.8 386.6h0M2232.4 384.7h0M2217.0 387.4h0M2208.7 389.0h0M2195.4 397.4h0M2177.5 395.2h0M2164.6 395.5h0M2158.7 407.1h0M2145.4 408.8h0M2138.1 393.9h0M2130.6 384.5h0M2113.9 390.6h0M2100.2 388.4h0M2088.0 386.9h0M2079.2 381.9h0M2065.4 380.7h0M2054.1 376.1h0M2043.0 384.9h0M2024.8 382.1h0M2008.2 378.6h0M1992.9 372.4h0M1977.9 372.1h0M1967.3 368.1h0M1955.7 371.3h0M1944.3 375.0h0M1930.8 375.4h0M1912.7 373.4h0M1899.4 370.2h0M1885.3 370.8h0M1870.8 369.7h0M1859.7 362.3h0M1843.5 356.7h0M1829.3 352.6h0M1820.7 360.0h0M1810.4 368.4h0M1798.8 378.8h0M1786.4 391.7h0M1777.5 394.5h0M1767.8 393.3h0M1757.1 383.7h0M1750.9 392.7h0M1744.3 400.8h0M1728.5 400.6h0M1720.1 388.2h0M1714.1 379.4h0M1699.9 368.6h0M1690.3 373.7h0M1681.1 373.9h0M1672.3 375.4h0M1662.6 379.9h0M1645.8 376.3h0M1631.5 382.3h0M1617.3 390.6h0M1602.7 395.6h0M1590.4 390.3h0M1584.7 401.1h0M1573.6 406.1h0M1563.2 398.0h0M1549.5 394.2h0M1538.4 399.8h0M1522.0 398.5h0M1512.3 398.6h0M1501.6 406.3h0M1487.7 407.5h0M1480.7 401.3h0M1474.4 408.9h0M1466.6 419.0h0M1465.3 429.6h0M1462.2 442.8h0M1445.7 448.6h0M1430.7 447.6h0M1417.8 440.5h0M1408.8 441.1h0M1399.0 445.7h0M1390.6 440.0h0M1386.5 429.2h0M1381.6 419.8h0M1373.2 425.0h0M1359.5 426.0h0M1346.0 421.6h0M1331.7 417.6h0M1317.6 415.6h0M1308.1 412.1h0M1296.4 406.5h0M1291.3 395.5h0M1289.9 385.1h0M1288.8 366.5h0M1286.4 355.7h0M1280.6 352.6h0M1271.9 358.0h0M1258.2 358.4h0M1247.2 358.2h0M1231.1 366.6h0M1216.2 371.9h0M1199.5 368.2h0M1182.7 367.7h0M1175.0 376.6h0M1161.9 376.4h0M1149.0 381.6h0M1136.2 391.5h0M1120.7 388.5h0M1108.5 389.2h0M1096.1 392.1h0M1080.2 386.3h0M1075.1 376.4h0M1068.9 365.6h0M1059.5 369.6h0M1044.7 371.0h0M1033.5 377.0h0M1025.2 380.5h0M1009.3 375.8h0M991.4 377.1h0M978.6 380.4h0M971.7 386.7h0M954.0 387.8h0M942.2 385.1h0M931.1 380.2h0M922.8 384.5h0M908.1 386.7h0M893.1 380.4h0M882.3 379.3h0M869.8 377.2h0M852.2 374.3h0M844.5 371.9h0M831.6 375.8h0M822.6 374.0h0M810.0 375.2h0M797.5 386.6h0M788.6 390.2h0M775.1 384.2h0M761.9 377.0h0M749.5 371.3h0M734.4 374.8h0M718.7 371.9h0M705.8 364.6h0M690.1 371.8h0M676.0 365.9h0M666.6 367.3h0M658.6 371.9h0M644.0 375.7h0M634.3 365.8h0M620.1 354.9h0M610.2 352.3h0M599.4 352.7h0M584.5 352.5h0M573.0 347.0h0M560.2 345.3h0M546.9 346.5h0M534.8 347.6h0M519.5 348.4h0M501.2 348.9h0M491.6 342.2h0M482.1 343.1h0M473.5 346.6h0M461.2 351.5h0M444.4 350.7h0M436.6 356.4h0M428.1 362.4h0M418.8 358.4h0M409.0 354.6h0M393.3 353.1h0M384.2 359.4h0M370.2 368.2h0M353.5 368.5h0M343.9 361.7h0M332.2 353.6h0M316.9 363.5h0M299.8 366.1h0M283.1 366.7h0M272.7 363.2h0M262.0 367.3h0M252.3 377.6h0M242.2 380.1h0M228.2 387.0h0M222.0 400.3h0M270.7 361.5h0M335.0 348.6h0M388.6 342.2h0M414.3 350.3h0M441.1 341.1h0M488.2 336.2h0M525.7 341.8h0M551.4 345.0h0M605.0 348.6h0M626.4 355.0h0M675.7 360.4h0M706.8 360.4h0M729.3 372.2h0M753.9 363.2h0M820.4 373.2h0M848.2 367.5h0M868.6 376.5h0M893.2 377.1h0M937.1 373.2h0M976.8 378.2h0M998.2 373.9h0M1036.8 371.1h0M1040.0 371.1h0M1071.7 350.3h0M1119.3 382.9h0M1160.0 376.0h0M1181.4 359.8h0M1202.9 367.9h0M1250.0 357.2h0M1282.1 334.7h0M1342.1 415.5h0M1381.8 414.6h0M1416.1 426.8h0M1480.4 393.6h0M1511.4 394.0h0M1548.9 392.5h0M1592.9 374.8h0M1645.4 375.4h0M1674.3 373.2h0M1700.0 359.3h0M1756.8 369.0h0M1826.4 348.2h0M1851.1 356.1h0M1898.2 363.6h0M1919.6 371.1h0M1963.1 363.2h0M1991.4 371.1h0M2031.1 380.8h0M2054.0 365.8h0M2077.1 375.4h0M2136.1 376.9h0M2166.1 392.5h0M2209.6 379.7h0M2234.6 380.8h0M2270.0 376.5h0M243.9 421.0h0M312.5 403.2h0M354.3 402.1h0M395.0 398.9h0M435.7 399.5h0M460.4 391.0h0M497.9 380.2h0M538.1 398.9h0M587.9 398.9h0M610.4 398.2h0M637.1 408.1h0M663.9 410.7h0M684.3 415.0h0M732.5 418.8h0M779.6 441.8h0M834.3 410.7h0M881.4 430.0h0M947.9 430.0h0M1010.0 441.8h0M1031.4 426.8h0M1040.0 423.5h0M1080.7 427.8h0M1093.6 427.8h0M1124.6 434.2h0M1172.9 414.5h0M1217.9 412.4h0M1268.2 391.8h0M1302.5 450.3h0M1338.9 466.8h0M1374.3 468.5h0M1400.0 469.6h0M1460.0 483.5h0M1460.0 483.5h0M1496.4 436.4h0M1524.3 438.5h0M1575.7 429.5h0M1607.9 424.6h0M1633.6 433.8h0M1652.9 421.0h0M1680.7 420.3h0M1742.9 445.4h0M1775.0 428.2h0M1824.3 409.6h0M1856.4 422.5h0M1880.0 427.8h0M1880.0 427.8h0M1929.3 406.4h0M1952.9 414.5h0M1982.9 417.1h0M2002.1 417.1h0M2033.2 425.2h0M2114.6 453.1h0M2143.6 463.2h0M2165.0 451.4h0M2238.9 434.2h0" fill="none" stroke="#ff0000" stroke-width="21.5" stroke-linecap="round"/></g>
<text class="t" x="193" y="165.0" font-size="77.5" fill="#262626" text-anchor="end">5</text>
<text class="t" x="193" y="405.5" font-size="77.5" fill="#262626" text-anchor="end">0</text>
<text class="t" x="193" y="646.0" font-size="77.5" fill="#262626" text-anchor="end">-5</text>
<text class="t" x="220.8" y="722.3" font-size="77.5" fill="#262626" text-anchor="middle">0</text>
<text class="t" x="648.3" y="722.3" font-size="77.5" fill="#262626" text-anchor="middle">5</text>
<text class="t" x="1075.8" y="722.3" font-size="77.5" fill="#262626" text-anchor="middle">10</text>
<text class="t" x="1503.3" y="722.3" font-size="77.5" fill="#262626" text-anchor="middle">15</text>
<text class="t" x="1930.8" y="722.3" font-size="77.5" fill="#262626" text-anchor="middle">20</text>
<text class="t" transform="translate(88 375.5) rotate(-90)" font-size="70.2" fill="#262626" text-anchor="middle">N (meter)</text>
<path d="M285 203.0 H476" stroke="#00ff00" stroke-width="8.5" fill="none"/><circle cx="380.3" cy="203.0" r="10.8" fill="#00ff00"/>
<text x="488.6" y="229.7" font-size="69.8" fill="#000" stroke="#000" stroke-width="1.3">BDS-2,RMS=0.927m</text>
<path d="M1168 203.0 H1359.3" stroke="#ff0000" stroke-width="8.5" fill="none"/><circle cx="1263.7" cy="203.0" r="10.8" fill="#ff0000"/>
<text x="1371.8" y="229.7" font-size="69.8" fill="#000" stroke="#000" stroke-width="1.3">BDS-2+BDS-3,RMS=0.685m</text>
</g>
<g id="panel2">
<rect x="222" y="810" width="2060" height="481" fill="#fffaf6"/>
<path d="M649.5 810 V1291 M1077.0 810 V1291 M1504.5 810 V1291 M1932.0 810 V1291 M222 1050.5 H2282" stroke="#dedad7" stroke-width="4" fill="none"/>
<path d="M649.5 810 v23 M649.5 1291 v-23 M1077.0 810 v23 M1077.0 1291 v-23 M1504.5 810 v23 M1504.5 1291 v-23 M1932.0 810 v23 M1932.0 1291 v-23 M222 1050.5 h23 M2282 1050.5 h-23" stroke="#262626" stroke-width="4" fill="none"/>
<rect x="222" y="810" width="2060" height="481" fill="none" stroke="#262626" stroke-width="4"/>
<g><path d="M222.0 1037.8 222.9 1042.2 225.8 1046.4 236.1 1058.8 238.7 1063.3 242.3 1060.4 259.5 1051.8 262.3 1050.9 265.3 1050.7 268.2 1051.4 270.8 1052.9 272.9 1055.0 281.9 1067.0 290.2 1074.4 296.5 1078.7 305.0 1075.0 315.3 1063.9 328.1 1053.2 330.6 1051.6 333.5 1050.8 336.5 1050.8 339.4 1051.6 350.7 1060.5 360.6 1058.4 363.8 1058.2 367.0 1059.0 377.3 1067.1 378.7 1065.2 383.6 1048.4 385.5 1046.1 387.9 1044.4 390.7 1043.4 393.7 1043.2 396.6 1043.9 422.3 1053.5 425.2 1055.1 426.1 1052.4 429.8 1048.2 432.3 1047.0 437.8 1046.6 442.8 1049.1 452.5 1062.9 455.9 1065.9 461.9 1063.7 464.8 1063.6 471.3 1065.8 474.1 1062.7 476.7 1052.4 478.2 1049.0 488.4 1034.3 492.6 1031.8 501.2 1029.3 507.3 1024.4 524.5 1014.1 529.0 1012.6 547.8 1014.7 562.6 1015.0 567.1 1017.3 573.9 1023.3 584.7 1026.9 602.8 1037.9 607.6 1033.6 616.7 1028.0 619.6 1027.5 624.5 1028.3 635.0 1014.7 637.6 1012.2 653.3 1002.3 656.4 1001.8 669.5 1002.1 673.9 1004.2 678.7 1008.1 685.3 1004.5 690.2 1004.1 703.3 1009.0 706.3 1010.8 708.5 1013.5 713.7 1022.2 727.4 1031.5 732.4 1028.7 762.4 1019.1 765.5 1018.5 768.6 1018.9 771.4 1020.2 778.8 1028.0 785.1 1029.1 796.1 1027.3 801.8 1027.9 812.9 1035.7 819.4 1043.7 831.9 1048.3 841.7 1059.9 845.8 1062.8 857.8 1056.9 860.9 1056.7 863.9 1057.4 872.3 1060.7 876.1 1056.9 876.6 1043.7 879.1 1039.1 892.7 1029.9 906.0 1022.1 908.8 1021.0 911.8 1020.7 928.6 1025.8 937.3 1019.3 940.3 1018.6 943.3 1018.7 970.4 1031.7 986.5 1034.5 989.1 1036.1 991.1 1038.3 997.9 1048.5 1005.4 1051.7 1016.3 1046.6 1019.0 1046.4 1024.1 1047.9 1032.6 1056.0 1034.9 1059.3 1040.2 1071.7 1045.6 1075.7 1051.8 1076.3 1064.9 1072.5 1067.8 1072.1 1070.8 1072.5 1073.5 1073.7 1075.8 1075.6 1082.6 1088.3 1088.9 1092.4 1098.0 1087.9 1113.5 1081.9 1128.5 1079.7 1131.7 1079.7 1141.7 1084.2 1148.3 1079.3 1158.2 1067.4 1165.0 1060.5 1167.3 1048.5 1170.5 1044.4 1175.4 1042.3 1185.1 1040.6 1195.2 1031.4 1204.8 1020.8 1228.4 1002.8 1233.4 1001.8 1236.0 1002.3 1255.2 1013.3 1285.5 1014.8 1288.3 1016.2 1290.5 1018.3 1298.5 1028.2 1301.8 1031.0 1307.3 1028.3 1310.1 1027.3 1313.2 1027.2 1316.1 1027.9 1321.6 1031.6 1325.4 1028.5 1331.6 1019.3 1356.3 996.7 1369.5 993.3 1380.6 994.5 1382.2 992.5 1382.7 984.5 1385.1 976.0 1387.8 971.7 1389.8 970.1 1394.7 968.6 1404.9 968.0 1408.1 968.3 1415.9 972.4 1439.2 976.5 1441.8 978.1 1443.8 980.4 1445.2 983.1 1445.7 986.1 1446.7 1020.1 1460.3 1034.4 1478.6 1096.7 1480.0 1095.9 1480.4 1088.9 1481.1 1085.6 1482.8 1082.7 1501.2 1060.0 1502.1 1051.6 1502.9 1048.6 1504.6 1045.9 1506.9 1043.8 1509.7 1042.5 1518.9 1039.7 1524.1 1032.4 1525.1 1024.8 1526.4 1022.3 1530.9 1018.7 1533.7 1017.9 1551.2 1019.8 1554.1 1020.6 1574.9 1036.9 1577.4 1038.2 1603.1 1027.9 1611.7 1025.7 1614.8 1025.4 1617.8 1026.0 1637.7 1039.9 1648.5 1050.5 1652.0 1052.2 1659.0 1050.4 1670.8 1042.7 1673.7 1042.1 1676.7 1042.4 1679.5 1043.5 1681.9 1045.3 1697.4 1060.8 1701.2 1062.2 1711.8 1060.7 1720.9 1056.1 1731.1 1053.7 1737.4 1047.4 1740.8 1045.1 1753.9 1039.5 1759.7 1033.6 1769.2 1015.6 1771.5 1013.7 1774.2 1012.5 1777.1 1012.1 1780.1 1012.5 1782.8 1013.7 1785.1 1015.6 1790.6 1024.7 1792.4 1022.7 1793.7 1006.7 1801.9 993.6 1804.1 992.0 1809.4 990.7 1814.7 992.1 1818.7 995.6 1820.6 994.1 1825.8 986.9 1830.8 984.4 1836.4 984.9 1839.0 986.1 1858.2 999.4 1861.4 1002.8 1867.5 1013.0 1872.4 1019.5 1899.2 1037.8 1899.9 1034.1 1901.4 1031.4 1907.8 1022.8 1911.9 1019.5 1917.2 1018.6 1926.8 1021.4 1952.1 1007.4 1955.6 1006.2 1968.9 1004.3 1983.3 997.7 1998.2 999.3 2005.9 995.4 2015.2 984.6 2020.6 982.6 2038.9 986.1 2061.8 1004.9 2066.3 1001.5 2071.6 999.3 2074.5 999.4 2080.6 1001.7 2091.2 995.4 2094.2 995.0 2097.1 995.3 2105.0 999.6 2112.5 995.5 2117.5 995.1 2143.2 999.4 2146.3 1000.4 2155.3 1008.6 2159.3 1007.8 2164.5 1009.0 2184.5 1025.8 2193.5 1026.8 2205.4 1030.0 2213.7 1025.7 2228.2 1025.4 2247.5 1027.6 2256.0 1032.1 2258.9 1031.0 2273.5 1010.7 2274.0 985.6 2273.8 984.5 2270.1 979.7 2262.6 977.4 2259.8 976.1 2257.5 974.0 2250.1 957.9 2241.9 947.8 2240.3 934.9 2235.2 928.5 2229.8 925.7 2229.1 927.2 2228.1 939.1 2224.0 958.8 2220.7 962.9 2212.2 969.3 2209.8 970.6 2204.6 971.4 2199.6 969.5 2197.6 967.8 2191.2 955.7 2187.8 953.9 2180.3 959.7 2174.8 960.7 2169.5 958.8 2162.9 954.1 2152.1 956.5 2147.0 955.1 2143.1 951.5 2141.9 949.1 2140.6 935.1 2140.0 934.5 2132.2 942.0 2127.7 943.5 2099.8 946.8 2073.7 948.9 2068.6 948.1 2064.4 944.9 2059.6 934.8 2050.8 925.6 2043.6 913.9 2038.6 910.9 2026.1 913.0 2013.0 923.4 2007.4 924.3 2002.4 922.7 1999.0 927.6 1990.8 935.8 1988.4 949.1 1986.8 951.6 1984.6 953.5 1982.0 954.8 1979.1 955.4 1976.2 955.1 1962.2 951.9 1957.4 949.4 1954.4 944.8 1953.3 932.2 1950.4 943.1 1949.2 946.0 1947.2 948.3 1934.0 959.6 1931.2 960.6 1928.3 960.7 1925.4 960.0 1922.8 958.6 1914.3 952.2 1906.3 943.4 1897.0 943.4 1892.2 941.0 1890.4 938.9 1888.6 933.9 1886.6 914.0 1880.2 897.7 1861.8 908.8 1856.3 909.1 1845.0 906.7 1829.8 914.3 1806.8 930.1 1795.5 935.3 1781.1 946.5 1765.5 973.2 1751.0 982.1 1740.6 989.5 1738.0 990.2 1725.8 989.3 1715.5 990.2 1712.7 989.3 1710.2 987.8 1704.4 979.8 1700.8 982.6 1698.3 983.6 1686.3 983.9 1674.1 992.6 1669.4 994.5 1664.3 994.0 1640.8 985.9 1638.0 984.5 1635.8 982.3 1634.3 979.6 1632.6 964.6 1630.2 955.1 1627.6 952.2 1622.2 951.8 1619.6 950.7 1617.3 949.0 1615.3 946.2 1611.5 950.5 1600.3 954.3 1595.2 958.8 1588.0 972.8 1585.6 974.7 1582.8 975.9 1579.8 976.3 1564.5 972.0 1561.7 970.6 1559.4 968.5 1557.8 965.8 1556.6 958.7 1555.4 956.6 1546.0 953.5 1537.3 954.1 1532.0 962.8 1527.3 965.7 1519.9 967.8 1514.3 971.5 1497.2 987.0 1496.3 1001.7 1493.9 1006.1 1485.7 1011.5 1480.4 1011.9 1475.5 1009.8 1473.6 1007.9 1464.1 987.4 1462.5 958.5 1461.9 923.9 1460.5 919.5 1455.7 917.1 1451.7 913.6 1450.4 911.3 1449.2 903.6 1444.3 900.8 1441.3 896.0 1436.5 880.9 1425.9 889.1 1420.6 890.0 1415.5 888.2 1402.9 879.9 1382.6 903.1 1377.5 905.0 1365.5 903.4 1363.4 906.5 1362.5 922.7 1361.2 927.4 1347.6 942.6 1332.6 957.6 1329.8 959.6 1312.7 968.2 1307.1 969.3 1272.2 958.2 1239.3 958.6 1222.2 962.0 1207.0 968.6 1185.9 990.6 1165.3 1006.5 1154.5 1012.5 1142.2 1017.7 1135.4 1023.7 1123.0 1036.8 1105.3 1042.8 1100.5 1042.1 1089.7 1037.8 1086.4 1034.2 1079.1 1021.4 1075.0 1018.7 1068.3 1024.3 1065.6 1025.9 1062.5 1026.7 1059.3 1026.5 1046.3 1023.7 1042.4 1020.7 1032.6 1008.8 1023.2 1000.5 1017.7 994.5 1011.0 996.7 1008.0 996.6 1005.1 995.6 1002.6 993.8 997.7 989.2 982.7 990.6 969.0 984.9 953.8 981.1 944.6 973.9 937.3 975.7 934.1 975.3 924.8 969.7 918.5 963.0 913.6 966.3 911.2 967.0 906.2 966.7 901.3 965.2 888.7 970.4 879.8 984.6 877.8 987.0 867.1 996.0 862.1 997.2 834.3 997.2 831.5 996.8 826.6 993.9 819.9 982.7 814.0 975.1 806.6 969.6 800.3 961.7 797.0 960.9 790.8 963.9 785.7 965.0 780.8 963.6 774.1 957.8 754.0 976.9 751.7 978.6 746.2 980.0 740.7 978.4 730.4 967.7 715.4 965.6 698.2 960.3 695.3 958.8 692.9 956.6 687.8 949.9 681.2 953.0 678.1 953.2 675.1 952.5 672.4 951.1 667.9 945.6 663.7 951.5 658.6 954.1 633.2 952.5 625.8 957.3 615.9 969.1 608.3 981.2 603.7 983.9 598.4 984.1 587.3 978.9 583.4 975.6 581.5 970.8 579.8 958.8 576.9 955.3 572.7 956.4 569.9 956.3 564.7 953.8 544.6 936.9 541.9 933.5 539.7 929.3 536.9 932.5 527.4 940.4 525.0 960.4 508.5 982.3 504.2 985.6 501.6 986.3 496.2 985.8 485.1 978.4 475.7 976.9 462.7 977.3 432.6 996.6 427.0 996.9 416.9 992.1 406.2 1001.0 400.9 1002.1 395.8 1000.5 386.3 991.0 377.5 995.4 358.2 1002.9 353.0 1003.5 348.1 1001.7 342.6 995.7 338.1 1004.3 336.3 1006.8 333.9 1008.6 331.0 1009.8 327.9 1010.0 318.2 1007.0 306.7 1014.7 304.0 1016.0 301.0 1016.5 298.0 1016.1 295.2 1014.9 273.8 1002.1 264.1 992.0 258.4 989.2 251.6 996.1 246.8 998.9 244.1 999.3 238.7 998.0 233.5 993.5 222.0 1025.8Z" fill="#00ff00" stroke="#00ff00" stroke-width="11.5" stroke-linejoin="round"/><path d="M228.9 984.8v21.5M256.1 986.9v21.5M316.8 1005.8v21.5M340.4 987.5v21.5M388.6 988.6v21.5M415.4 989.9v21.5M476.4 976.8v21.5M541.8 920.5v21.5M580.4 953.2v21.5M630.7 952.2v21.5M667.1 937.2v21.5M690.7 946.8v21.5M774.3 953.9v21.5M795.7 960.3v21.5M900.7 964.6v21.5M920.0 959.0v21.5M946.8 972.5v21.5M1001.4 988.6v21.5M1020.7 992.5v21.5M1040.0 1011.8v21.5M1074.3 1016.0v21.5M1238.2 958.6v21.5M1273.6 958.2v21.5M1360.6 902.5v21.5M1401.1 876.5v21.5M1442.0 873.3v21.5M1547.3 953.3v21.5M1614.7 934.0v21.5M1632.5 952.2v21.5M1682.9 983.9v21.5M1706.4 974.2v21.5M1725.7 989.2v21.5M1843.6 906.1v21.5M1880.0 892.2v21.5M1911.1 943.2v21.5M1953.9 925.4v21.5M1997.9 920.0v21.5M2040.7 910.4v21.5M2142.5 931.8v21.5M2165.0 953.2v21.5M2186.4 951.8v21.5M2225.0 921.8v21.5M236.9 1072.1v-21.5M295.4 1080.2v-21.5M347.9 1061.4v-21.5M378.9 1072.1v-21.5M423.9 1067.8v-21.5M453.9 1067.8v-21.5M474.3 1067.8v-21.5M547.1 1014.7v-21.5M603.9 1040.8v-21.5M628.6 1029.7v-21.5M677.9 1010.4v-21.5M727.1 1033.5v-21.5M785.0 1029.2v-21.5M845.0 1064.6v-21.5M875.0 1062.5v-21.5M930.7 1027.1v-21.5M1005.7 1052.8v-21.5M1052.9 1076.4v-21.5M1088.2 1094.0v-21.5M1142.9 1086.0v-21.5M1300.4 1033.1v-21.5M1321.8 1034.6v-21.5M1380.0 994.8v-21.5M1479.6 1097.9v-21.5M1576.7 1039.1v-21.5M1650.7 1052.8v-21.5M1700.0 1062.5v-21.5M1792.1 1028.2v-21.5M1817.9 999.2v-21.5M1899.3 1051.1v-21.5M1928.2 1022.4v-21.5M2000.0 999.7v-21.5M2061.1 1008.2v-21.5M2081.4 1003.1v-21.5M2105.0 1001.4v-21.5M2152.1 1010.0v-21.5M2206.8 1030.8v-21.5M2255.0 1033.1v-21.5" fill="none" stroke="#00ff00" stroke-width="8.5"/><path d="M223.0 1042.3h0M229.6 1051.0h0M241.3 1061.2h0M257.5 1052.8h0M270.3 1052.6h0M280.2 1064.7h0M288.1 1072.5h0M297.2 1078.5h0M307.3 1072.6h0M318.4 1061.3h0M327.0 1054.1h0M343.5 1054.9h0M351.2 1060.4h0M362.0 1058.3h0M370.7 1061.9h0M380.4 1059.4h0M384.4 1047.5h0M396.6 1043.9h0M408.1 1048.2h0M422.5 1053.6h0M431.1 1047.5h0M441.6 1048.5h0M449.7 1058.9h0M458.3 1065.0h0M468.0 1064.7h0M476.5 1053.4h0M484.5 1039.9h0M496.4 1030.7h0M511.5 1021.8h0M522.6 1015.2h0M534.8 1013.2h0M548.0 1014.7h0M561.0 1015.0h0M573.9 1023.3h0M582.5 1026.1h0M594.4 1032.8h0M606.2 1034.9h0M616.6 1028.1h0M625.2 1027.4h0M635.0 1014.7h0M642.3 1009.3h0M654.9 1002.1h0M665.4 1002.0h0M674.2 1004.4h0M683.1 1005.7h0M692.3 1004.9h0M702.1 1008.6h0M712.4 1020.0h0M725.1 1029.9h0M736.4 1027.4h0M751.1 1022.7h0M764.3 1018.7h0M775.9 1024.9h0M792.2 1027.9h0M803.8 1029.3h0M817.0 1040.8h0M830.8 1047.9h0M841.4 1059.5h0M849.0 1061.2h0M857.8 1056.9h0M866.8 1058.5h0M876.1 1055.7h0M880.2 1038.4h0M895.0 1028.6h0M910.4 1020.8h0M920.2 1023.2h0M934.4 1021.5h0M949.7 1021.8h0M965.1 1029.2h0M981.2 1033.6h0M990.4 1037.6h0M996.5 1046.5h0M1011.1 1049.0h0M1026.0 1049.7h0M1036.8 1063.7h0M1044.0 1074.6h0M1061.1 1073.6h0M1071.3 1072.7h0M1082.0 1087.2h0M1097.1 1088.4h0M1108.6 1083.8h0M1117.8 1081.2h0M1132.2 1079.9h0M1146.1 1080.9h0M1154.5 1071.8h0M1160.9 1064.7h0M1166.1 1054.7h0M1175.8 1042.2h0M1185.5 1040.3h0M1198.7 1027.6h0M1206.7 1019.4h0M1215.5 1012.7h0M1223.5 1006.5h0M1240.3 1004.7h0M1256.0 1013.3h0M1268.2 1013.9h0M1278.2 1014.4h0M1291.8 1019.8h0M1304.3 1029.8h0M1312.9 1027.2h0M1325.7 1028.1h0M1336.7 1014.6h0M1346.7 1005.4h0M1358.0 996.3h0M1374.6 993.8h0M1382.4 989.7h0M1384.5 978.2h0M1395.3 968.6h0M1409.6 969.1h0M1423.0 973.6h0M1435.1 975.8h0M1445.7 988.2h0M1446.1 1000.1h0M1446.6 1015.9h0M1456.2 1030.0h0M1462.2 1041.1h0M1464.9 1050.3h0M1468.1 1061.0h0M1470.8 1070.3h0M1473.8 1080.4h0M1476.7 1090.2h0M1480.2 1092.0h0M1484.6 1080.5h0M1493.0 1070.0h0M1501.5 1057.3h0M1507.5 1043.5h0M1521.1 1036.6h0M1525.1 1025.0h0M1537.6 1018.3h0M1552.0 1020.0h0M1560.5 1025.6h0M1571.8 1034.5h0M1582.5 1036.2h0M1597.1 1030.3h0M1612.7 1025.6h0M1622.9 1029.6h0M1633.9 1037.2h0M1644.1 1046.1h0M1653.8 1051.7h0M1662.4 1048.2h0M1670.3 1043.0h0M1686.4 1049.8h0M1698.2 1061.1h0M1711.3 1060.7h0M1725.7 1055.0h0M1735.5 1049.3h0M1749.3 1041.5h0M1762.2 1029.0h0M1770.5 1014.6h0M1783.1 1014.0h0M1792.6 1019.7h0M1796.4 1002.3h0M1801.5 994.2h0M1813.5 991.8h0M1823.3 990.4h0M1832.7 984.6h0M1846.0 991.0h0M1854.6 996.9h0M1865.2 1009.2h0M1876.5 1022.3h0M1884.4 1027.7h0M1897.6 1036.7h0M1903.1 1029.1h0M1914.1 1019.1h0M1929.2 1020.0h0M1945.7 1010.9h0M1961.5 1005.4h0M1973.3 1002.3h0M1988.6 998.3h0M1998.9 998.9h0M2011.3 989.1h0M2022.0 982.8h0M2033.4 985.1h0M2043.4 989.8h0M2052.0 996.9h0M2065.2 1002.3h0M2074.5 999.4h0M2084.7 999.2h0M2094.5 995.0h0M2104.1 999.1h0M2119.2 995.4h0M2133.9 997.8h0M2148.5 1002.4h0M2163.9 1008.8h0M2174.3 1017.2h0M2181.5 1023.3h0M2191.4 1026.6h0M2205.2 1029.9h0M2220.3 1025.6h0M2238.4 1026.6h0M2251.9 1029.9h0M2261.0 1028.2h0M2269.7 1016.1h0M2273.8 999.0h0M2274.0 986.6h0M2260.6 976.5h0M2251.6 961.2h0M2243.1 949.3h0M2240.4 936.0h0M2234.3 928.0h0M2228.8 930.6h0M2227.9 939.9h0M2224.9 954.8h0M2215.3 966.9h0M2198.4 968.5h0M2190.9 955.6h0M2174.5 960.6h0M2163.2 954.3h0M2153.1 956.2h0M2144.6 952.9h0M2141.3 942.0h0M2135.3 939.0h0M2117.9 944.7h0M2106.1 946.0h0M2094.8 947.2h0M2078.6 948.5h0M2066.4 946.4h0M2058.9 934.1h0M2051.7 926.5h0M2041.4 912.6h0M2024.3 914.4h0M2011.0 923.7h0M1996.5 930.1h0M1990.0 940.0h0M1988.3 949.1h0M1978.7 955.4h0M1961.3 951.4h0M1954.1 940.9h0M1952.7 934.4h0M1949.8 944.5h0M1942.7 952.2h0M1932.2 960.3h0M1916.1 953.5h0M1902.6 943.4h0M1889.4 936.2h0M1887.2 919.9h0M1884.8 909.3h0M1876.5 899.9h0M1866.9 905.7h0M1853.6 908.5h0M1844.5 906.9h0M1828.6 915.1h0M1820.1 921.0h0M1807.8 929.4h0M1794.0 936.5h0M1781.8 946.0h0M1773.5 959.4h0M1767.1 970.4h0M1753.8 980.4h0M1738.4 990.1h0M1723.3 989.5h0M1707.2 983.6h0M1692.8 983.7h0M1683.8 985.7h0M1670.6 994.0h0M1661.0 992.9h0M1646.2 987.8h0M1635.4 981.6h0M1632.5 964.5h0M1630.3 955.3h0M1615.5 946.4h0M1608.2 951.6h0M1599.4 955.1h0M1593.6 961.8h0M1588.9 970.9h0M1572.4 974.2h0M1557.9 966.1h0M1547.6 954.0h0M1537.0 954.5h0M1526.7 965.9h0M1511.9 973.7h0M1499.9 984.6h0M1496.7 995.1h0M1488.0 1010.0h0M1473.5 1007.7h0M1466.8 993.3h0M1463.8 982.1h0M1463.1 969.1h0M1462.4 952.6h0M1462.1 938.4h0M1461.9 924.5h0M1450.6 911.6h0M1444.8 901.1h0M1437.9 885.2h0M1432.6 883.9h0M1420.1 889.8h0M1406.1 882.0h0M1399.5 883.8h0M1388.9 895.9h0M1380.5 903.9h0M1365.6 903.4h0M1362.8 918.0h0M1360.7 927.9h0M1348.4 941.7h0M1340.4 949.8h0M1333.1 957.2h0M1321.4 963.8h0M1312.8 968.1h0M1303.1 968.0h0M1287.3 963.0h0M1277.8 960.0h0M1263.6 958.3h0M1245.8 958.5h0M1232.4 960.0h0M1216.0 964.7h0M1201.8 974.0h0M1194.4 981.7h0M1187.7 988.8h0M1174.6 999.3h0M1160.1 1009.4h0M1144.3 1016.8h0M1132.1 1027.2h0M1122.2 1037.1h0M1104.5 1042.7h0M1089.2 1037.3h0M1080.2 1023.4h0M1066.4 1025.4h0M1057.2 1026.1h0M1042.2 1020.4h0M1032.7 1008.9h0M1025.9 1002.9h0M1017.9 994.6h0M1002.8 993.9h0M990.4 989.9h0M976.4 988.0h0M965.3 983.9h0M951.6 979.3h0M935.9 975.6h0M920.6 965.2h0M908.2 966.8h0M892.8 968.7h0M885.8 975.0h0M880.3 983.9h0M869.7 993.8h0M853.4 997.2h0M843.2 997.2h0M832.7 997.0h0M823.0 987.8h0M816.2 977.9h0M808.5 971.0h0M801.5 963.2h0M789.7 964.2h0M775.0 958.6h0M767.2 964.3h0M754.9 976.1h0M746.2 980.0h0M736.7 974.2h0M723.9 966.8h0M714.9 965.5h0M703.3 961.8h0M693.8 957.4h0M686.3 950.6h0M670.5 948.8h0M664.2 950.8h0M648.9 953.5h0M631.2 953.7h0M622.6 961.1h0M612.1 975.2h0M603.9 983.8h0M588.3 979.3h0M581.0 967.3h0M577.3 955.8h0M561.5 951.1h0M549.3 940.8h0M541.1 931.9h0M531.1 937.4h0M526.5 947.5h0M525.1 959.3h0M514.6 974.2h0M501.1 986.3h0M491.5 982.7h0M474.7 976.9h0M459.3 979.5h0M451.6 984.5h0M443.1 989.9h0M431.7 996.7h0M415.4 993.3h0M400.6 1002.0h0M391.2 995.9h0M380.4 993.9h0M363.5 1000.8h0M352.9 1003.5h0M344.7 998.1h0M337.9 1004.6h0M324.3 1008.9h0M308.7 1013.3h0M292.4 1013.3h0M284.6 1008.6h0M275.4 1003.1h0M268.0 996.0h0M256.3 991.3h0M246.0 999.0h0M232.2 997.1h0M227.1 1011.4h0M222.1 1025.7h0M228.9 984.8h0M256.1 986.9h0M316.8 1005.8h0M340.4 987.5h0M388.6 988.6h0M415.4 989.9h0M476.4 976.8h0M541.8 920.5h0M580.4 953.2h0M630.7 952.2h0M667.1 937.2h0M690.7 946.8h0M774.3 953.9h0M795.7 960.3h0M900.7 964.6h0M920.0 959.0h0M946.8 972.5h0M1001.4 988.6h0M1020.7 992.5h0M1040.0 1011.8h0M1074.3 1016.0h0M1238.2 958.6h0M1273.6 958.2h0M1360.6 902.5h0M1401.1 876.5h0M1442.0 873.3h0M1547.3 953.3h0M1614.7 934.0h0M1632.5 952.2h0M1682.9 983.9h0M1706.4 974.2h0M1725.7 989.2h0M1843.6 906.1h0M1880.0 892.2h0M1911.1 943.2h0M1953.9 925.4h0M1997.9 920.0h0M2040.7 910.4h0M2142.5 931.8h0M2165.0 953.2h0M2186.4 951.8h0M2225.0 921.8h0M236.9 1072.1h0M295.4 1080.2h0M347.9 1061.4h0M378.9 1072.1h0M423.9 1067.8h0M453.9 1067.8h0M474.3 1067.8h0M547.1 1014.7h0M603.9 1040.8h0M628.6 1029.7h0M677.9 1010.4h0M727.1 1033.5h0M785.0 1029.2h0M845.0 1064.6h0M875.0 1062.5h0M930.7 1027.1h0M1005.7 1052.8h0M1052.9 1076.4h0M1088.2 1094.0h0M1142.9 1086.0h0M1300.4 1033.1h0M1321.8 1034.6h0M1380.0 994.8h0M1479.6 1097.9h0M1576.7 1039.1h0M1650.7 1052.8h0M1700.0 1062.5h0M1792.1 1028.2h0M1817.9 999.2h0M1899.3 1051.1h0M1928.2 1022.4h0M2000.0 999.7h0M2061.1 1008.2h0M2081.4 1003.1h0M2105.0 1001.4h0M2152.1 1010.0h0M2206.8 1030.8h0M2255.0 1033.1h0" fill="none" stroke="#00ff00" stroke-width="21.5" stroke-linecap="round"/><path d="M222.0 1029.2 222.8 1032.9 235.3 1047.2 244.5 1054.6 250.6 1057.8 258.7 1050.1 263.7 1048.6 280.8 1051.5 289.1 1049.0 294.6 1048.8 305.4 1054.2 316.6 1046.9 329.5 1042.7 332.9 1042.1 353.1 1042.6 368.8 1052.5 373.3 1056.1 378.2 1050.2 381.6 1047.5 392.8 1042.3 398.2 1042.6 402.8 1045.5 404.4 1047.7 407.0 1056.7 408.7 1048.5 410.1 1046.2 414.4 1043.0 419.6 1042.2 425.7 1042.8 430.8 1038.3 435.9 1035.9 449.6 1036.6 458.3 1034.0 468.5 1033.5 473.1 1026.7 474.8 1021.6 477.6 1017.2 479.7 1015.6 484.7 1014.3 489.8 1015.4 497.9 1019.4 504.3 1016.6 510.0 1017.0 518.5 1022.4 528.6 1018.6 547.8 1020.7 562.6 1021.0 567.1 1023.3 573.9 1029.3 584.7 1032.9 602.8 1043.9 607.6 1039.6 616.7 1034.0 619.6 1033.5 624.5 1034.3 635.0 1020.7 637.6 1018.2 650.5 1009.6 653.3 1008.3 656.4 1007.8 669.5 1008.1 673.9 1010.2 678.7 1014.1 685.3 1010.5 687.7 1010.0 692.6 1010.7 703.3 1015.0 706.3 1016.8 715.0 1029.4 716.7 1028.3 720.2 1022.1 722.4 1020.2 727.9 1018.5 733.5 1019.9 740.2 1026.1 747.4 1022.9 755.2 1020.4 765.2 1015.4 770.0 1014.2 774.8 1015.4 784.1 1020.0 793.1 1017.8 796.8 1017.5 807.5 1018.6 811.2 1019.7 819.8 1024.0 822.6 1026.0 827.7 1035.0 840.4 1026.0 853.6 1022.8 858.6 1024.1 862.5 1027.6 865.5 1032.1 870.0 1034.9 873.1 1035.2 882.8 1026.2 902.8 1021.8 906.3 1017.0 911.0 1014.6 916.2 1014.6 918.6 1015.5 920.8 1017.0 924.7 1022.4 927.4 1021.7 936.3 1013.4 939.1 1012.4 942.2 1012.1 945.2 1012.8 947.9 1014.3 956.1 1020.4 963.5 1025.1 968.9 1027.3 976.6 1020.1 981.5 1018.6 986.6 1019.5 997.0 1027.4 1004.0 1028.0 1017.2 1022.9 1022.7 1023.7 1027.2 1027.1 1034.6 1037.3 1039.9 1047.9 1044.0 1051.0 1066.1 1052.0 1070.6 1054.3 1080.8 1068.0 1086.8 1081.3 1089.1 1082.3 1094.5 1075.3 1115.9 1054.4 1125.5 1048.6 1133.4 1041.3 1136.2 1040.2 1139.2 1040.0 1146.0 1042.0 1151.9 1035.1 1156.5 1032.0 1162.2 1031.6 1171.4 1035.9 1179.1 1031.4 1186.7 1023.8 1191.5 1021.0 1201.3 1020.7 1210.3 1018.0 1219.4 1014.9 1226.7 1009.8 1231.5 1007.9 1234.1 1007.9 1239.5 1009.6 1247.4 1003.6 1256.6 1001.4 1262.0 1002.9 1267.6 1006.3 1273.5 1003.8 1276.2 1003.5 1281.4 1005.2 1291.8 1011.9 1299.1 1022.4 1303.1 1026.5 1309.0 1023.3 1311.5 1022.8 1314.1 1023.0 1319.8 1025.3 1326.2 1021.3 1331.4 1014.3 1335.2 1011.1 1340.0 1010.0 1346.9 1010.0 1356.7 1002.5 1367.4 999.6 1371.6 999.4 1380.6 1000.5 1382.2 998.5 1383.2 987.7 1385.1 982.0 1387.8 977.7 1392.2 975.1 1404.9 974.0 1408.1 974.3 1415.9 978.4 1439.2 982.5 1441.8 984.1 1443.8 986.4 1445.2 989.1 1445.7 992.1 1446.7 1026.4 1456.3 1028.7 1460.6 1032.6 1461.8 1035.2 1463.5 1084.7 1465.6 1090.1 1469.0 1090.6 1475.5 1089.0 1479.4 1083.2 1480.4 1075.4 1481.8 1072.8 1483.9 1070.7 1501.5 1063.0 1502.9 1054.6 1504.6 1051.9 1506.9 1049.8 1509.7 1048.5 1518.9 1045.7 1524.1 1038.4 1525.1 1030.8 1526.4 1028.3 1530.9 1024.7 1536.6 1023.9 1551.2 1025.8 1570.2 1031.4 1577.5 1027.9 1582.7 1028.0 1587.4 1030.5 1592.3 1035.1 1603.7 1033.7 1614.3 1031.4 1629.3 1034.1 1638.8 1024.3 1641.7 1023.1 1670.2 1016.4 1673.0 1016.8 1677.7 1019.7 1680.4 1024.5 1682.3 1031.9 1686.8 1025.5 1688.9 1023.1 1691.6 1021.5 1704.4 1016.1 1707.4 1015.4 1710.5 1015.5 1713.4 1016.5 1726.3 1023.3 1729.4 1027.7 1730.5 1035.5 1731.7 1036.1 1751.1 1032.4 1756.0 1023.7 1757.9 1008.7 1758.5 1006.2 1761.4 1002.0 1766.0 999.6 1778.8 996.4 1789.5 995.3 1794.2 990.6 1797.8 984.3 1801.0 980.9 1814.6 974.9 1822.1 969.3 1827.5 967.2 1833.2 968.1 1837.5 971.9 1846.1 984.8 1852.6 999.6 1861.4 1008.8 1867.5 1019.0 1872.4 1025.5 1874.2 1026.6 1877.7 1025.2 1883.0 1025.4 1885.4 1026.4 1889.2 1030.0 1895.3 1022.6 1908.6 1013.8 1911.5 1013.2 1914.4 1013.4 1928.4 1016.4 1942.5 1016.8 1955.6 1012.2 1968.9 1010.3 1983.3 1003.7 1998.2 1005.3 2005.9 1001.4 2013.0 992.6 2017.7 989.2 2023.5 988.7 2031.7 990.4 2042.9 982.1 2048.2 980.0 2051.1 980.1 2056.3 982.6 2058.2 984.7 2060.4 990.0 2066.5 993.6 2075.6 996.2 2082.3 992.2 2087.1 990.7 2096.1 991.9 2105.4 995.5 2108.9 992.7 2112.2 984.6 2115.3 980.3 2120.0 978.0 2125.2 978.3 2140.7 987.7 2142.4 990.1 2143.4 992.9 2144.6 999.1 2146.2 1000.1 2158.4 999.4 2161.1 1000.3 2165.4 1004.0 2170.9 1019.5 2172.2 1034.3 2177.7 1031.7 2181.1 1031.4 2193.5 1032.8 2205.4 1036.0 2213.7 1031.7 2224.2 1031.4 2232.3 1026.5 2237.9 1025.0 2250.7 1025.0 2263.4 1027.4 2268.7 1023.7 2273.5 1016.8 2274.0 1002.5 2268.5 1001.4 2256.3 1000.4 2243.5 996.4 2201.4 1005.5 2198.4 1005.7 2195.5 1005.0 2182.4 995.8 2174.6 995.0 2171.7 994.3 2169.2 992.8 2167.1 990.7 2165.6 988.1 2160.5 974.4 2151.9 969.1 2141.1 960.5 2132.6 952.1 2126.0 948.1 2118.7 948.8 2098.5 958.4 2092.8 958.0 2085.4 955.3 2073.2 958.6 2067.7 957.3 2057.4 947.9 2050.8 947.2 2043.6 953.7 2039.1 956.1 2034.0 956.2 2025.1 952.1 2013.4 956.5 1994.1 969.3 1979.1 976.8 1975.2 977.9 1963.2 978.9 1952.3 981.6 1937.9 988.4 1932.3 988.1 1922.4 984.8 1912.6 987.2 1907.3 987.2 1895.1 980.8 1891.4 977.3 1889.7 972.5 1888.5 960.9 1886.1 963.2 1880.7 965.0 1875.1 963.8 1872.8 962.1 1870.9 959.9 1869.5 955.6 1857.3 948.5 1854.8 946.4 1853.0 943.5 1847.4 930.4 1841.2 924.3 1836.7 921.5 1827.7 925.9 1812.2 930.7 1807.1 929.8 1800.7 927.0 1797.6 928.4 1789.6 942.0 1775.8 958.0 1763.3 968.9 1751.0 976.1 1742.9 982.2 1738.0 984.2 1725.8 983.3 1715.5 984.2 1712.7 983.3 1710.2 981.8 1708.2 979.5 1704.4 973.8 1700.8 976.6 1698.3 977.6 1686.3 977.9 1674.1 986.6 1671.0 988.1 1667.5 988.6 1656.3 988.2 1645.7 991.2 1630.3 997.1 1614.7 994.3 1605.7 997.0 1592.0 999.3 1589.1 998.6 1586.5 997.2 1582.1 992.2 1580.7 995.5 1578.8 997.8 1576.4 999.4 1568.7 1003.3 1563.7 1004.4 1561.1 1004.1 1556.6 1001.6 1552.7 996.2 1545.0 995.4 1542.1 994.7 1539.5 993.2 1537.4 991.1 1535.5 987.2 1533.8 986.3 1532.6 987.1 1526.0 999.5 1515.7 1011.0 1506.8 1017.6 1498.1 1019.1 1487.5 1032.8 1478.5 1036.9 1473.1 1037.5 1470.4 1036.8 1466.1 1033.5 1463.9 1028.5 1462.0 1016.0 1461.3 1004.4 1455.6 982.6 1455.1 970.4 1454.1 963.8 1438.1 944.5 1430.9 940.4 1427.9 938.0 1421.1 929.7 1412.7 928.4 1403.9 923.0 1397.8 924.8 1393.1 928.5 1389.4 940.1 1380.1 950.5 1377.4 951.7 1374.4 952.2 1367.0 950.6 1359.7 960.4 1351.8 966.8 1339.0 974.3 1324.5 979.7 1318.6 985.0 1316.1 986.1 1310.6 986.1 1300.0 980.7 1286.6 978.2 1276.6 971.5 1269.0 971.2 1258.8 966.4 1248.6 963.2 1237.9 968.1 1225.4 975.2 1212.8 976.6 1174.2 1000.9 1163.0 1001.8 1153.4 1007.1 1142.2 1011.7 1135.4 1017.7 1123.0 1030.8 1105.3 1036.8 1100.5 1036.1 1089.7 1031.8 1086.4 1028.2 1079.1 1015.4 1075.0 1012.7 1068.3 1018.3 1065.6 1019.9 1062.5 1020.7 1059.3 1020.5 1046.3 1017.7 1042.4 1014.7 1032.6 1002.8 1023.2 994.5 1017.7 988.5 1011.0 990.7 1008.0 990.6 1005.1 989.6 1001.4 986.7 996.3 990.2 987.3 992.9 982.3 992.1 972.7 988.1 960.3 990.7 957.3 990.2 954.5 988.8 946.0 982.8 941.6 982.2 934.1 986.6 929.4 988.1 924.6 987.4 919.8 985.5 911.4 992.0 901.2 993.7 890.9 997.1 888.0 997.0 885.2 996.0 879.3 993.1 871.5 996.8 861.2 999.3 855.6 997.8 849.9 992.5 845.1 996.2 841.8 997.1 828.7 998.2 824.3 996.6 813.8 989.7 799.7 974.7 792.3 978.7 787.3 980.0 782.3 978.9 775.1 975.3 767.6 973.8 757.9 975.1 747.6 985.5 744.1 987.8 731.3 993.1 728.4 993.9 725.4 993.8 722.6 992.9 720.1 991.3 709.8 981.9 705.0 970.7 702.0 967.4 696.8 968.2 693.9 967.7 688.0 964.3 682.3 968.4 679.8 969.1 674.8 968.9 668.8 967.1 647.0 980.6 644.2 981.8 641.3 982.2 638.3 981.7 630.7 979.4 626.8 980.6 623.1 985.6 612.8 992.1 606.0 1002.8 600.8 1005.5 595.0 1005.1 583.9 997.8 571.2 1001.5 565.9 1000.3 556.6 995.6 545.9 989.2 537.1 982.0 528.8 986.0 518.1 989.2 503.0 990.7 487.5 988.5 477.9 984.4 467.6 992.1 456.8 996.4 441.8 998.1 427.1 1001.5 422.1 1000.2 419.9 998.7 413.2 989.3 406.2 995.0 400.9 996.1 395.8 994.5 389.9 988.9 381.0 1006.2 379.4 1008.6 374.6 1011.7 368.8 1011.9 359.6 1009.5 341.6 1017.7 322.7 1020.5 313.3 1024.3 308.4 1025.0 303.8 1023.5 283.9 1011.0 270.7 1014.3 260.1 1014.3 244.2 1020.7 241.2 1020.6 238.3 1019.7 227.2 1014.5 222.0 1020.2Z" fill="#ff0000" stroke="#ff0000" stroke-width="11.5" stroke-linejoin="round"/><path d="M224.6 1012.2v21.5M257.9 1014.3v21.5M285.7 1010.0v21.5M358.6 1009.0v21.5M388.6 982.6v21.5M415.4 983.9v21.5M476.4 982.6v21.5M538.6 980.0v21.5M585.7 996.8v21.5M630.7 979.0v21.5M667.1 966.1v21.5M687.5 961.8v21.5M705.7 966.1v21.5M767.9 973.6v21.5M802.1 971.9v21.5M850.4 988.2v21.5M879.3 991.8v21.5M917.9 983.9v21.5M939.3 981.8v21.5M973.6 987.5v21.5M1001.4 982.6v21.5M1020.7 986.5v21.5M1040.0 1005.8v21.5M1074.3 1010.0v21.5M1247.9 962.5v21.5M1280.0 971.5v21.5M1362.5 949.0v21.5M1405.5 922.0v21.5M1533.3 984.6v21.5M1582.1 985.4v21.5M1614.3 994.0v21.5M1655.0 988.2v21.5M1682.9 977.9v21.5M1706.4 968.2v21.5M1725.7 983.2v21.5M1800.7 926.0v21.5M1837.1 920.0v21.5M1880.0 956.5v21.5M1888.6 946.8v21.5M1922.9 984.3v21.5M2025.7 951.1v21.5M2047.1 946.8v21.5M2085.7 954.8v21.5M2128.6 947.9v21.5M2244.3 996.1v21.5M252.5 1060.3v-21.5M281.4 1051.8v-21.5M306.1 1056.0v-21.5M374.6 1060.3v-21.5M406.8 1066.8v-21.5M429.3 1043.2v-21.5M450.7 1036.8v-21.5M474.3 1033.5v-21.5M497.9 1020.7v-21.5M517.1 1023.9v-21.5M547.1 1020.7v-21.5M603.9 1046.8v-21.5M628.6 1035.7v-21.5M677.9 1016.4v-21.5M714.3 1031.8v-21.5M737.9 1028.2v-21.5M782.9 1020.7v-21.5M826.8 1037.8v-21.5M877.1 1035.7v-21.5M920.0 1023.9v-21.5M971.4 1029.2v-21.5M1005.7 1028.2v-21.5M1040.0 1050.7v-21.5M1052.9 1051.8v-21.5M1092.5 1085.0v-21.5M1149.3 1043.8v-21.5M1171.8 1037.4v-21.5M1202.9 1020.7v-21.5M1241.4 1011.0v-21.5M1267.1 1007.8v-21.5M1301.4 1029.2v-21.5M1320.7 1026.7v-21.5M1350.7 1010.0v-21.5M1380.0 1000.8v-21.5M1469.4 1090.8v-21.5M1571.6 1032.1v-21.5M1588.6 1035.7v-21.5M1633.6 1034.6v-21.5M1681.8 1037.4v-21.5M1730.0 1036.8v-21.5M1873.6 1028.2v-21.5M1892.9 1032.5v-21.5M1944.3 1016.8v-21.5M2000.0 1005.7v-21.5M2034.3 991.1v-21.5M2077.1 997.1v-21.5M2107.1 997.1v-21.5M2143.6 1000.3v-21.5M2169.3 1037.8v-21.5M2206.8 1036.8v-21.5M2227.1 1031.4v-21.5M2265.7 1028.2v-21.5" fill="none" stroke="#ff0000" stroke-width="8.5"/><path d="M222.1 1029.7h0M228.7 1039.7h0M234.7 1046.5h0M243.8 1054.0h0M256.9 1051.8h0M271.8 1049.9h0M285.2 1050.1h0M300.8 1051.9h0M312.5 1049.6h0M328.7 1042.9h0M343.7 1042.4h0M353.9 1043.1h0M366.3 1050.9h0M376.6 1052.2h0M388.4 1044.4h0M399.0 1043.1h0M406.8 1056.0h0M409.7 1046.9h0M420.1 1042.2h0M430.1 1039.0h0M440.9 1036.1h0M451.6 1036.0h0M467.8 1033.6h0M475.5 1020.4h0M482.4 1014.9h0M496.2 1018.6h0M505.2 1016.7h0M519.0 1022.2h0M531.4 1018.9h0M545.7 1020.5h0M562.3 1021.0h0M576.2 1030.1h0M590.6 1036.4h0M600.8 1042.6h0M608.6 1039.0h0M621.9 1033.9h0M631.6 1025.0h0M645.0 1013.3h0M661.3 1007.9h0M671.9 1009.3h0M682.9 1011.8h0M698.1 1013.0h0M708.6 1020.2h0M719.4 1023.5h0M726.9 1018.9h0M738.1 1024.2h0M753.8 1020.8h0M770.9 1014.5h0M783.8 1019.9h0M795.0 1017.6h0M809.8 1019.2h0M820.7 1024.6h0M830.3 1033.2h0M840.5 1026.0h0M851.1 1023.4h0M863.5 1029.1h0M876.6 1032.0h0M888.1 1025.1h0M902.6 1021.8h0M914.4 1014.6h0M925.2 1022.3h0M932.4 1017.0h0M943.5 1012.4h0M958.3 1021.8h0M970.5 1025.8h0M984.7 1019.2h0M1000.6 1027.7h0M1009.5 1025.9h0M1024.7 1025.2h0M1033.5 1035.8h0M1037.8 1043.7h0M1045.4 1051.0h0M1059.3 1051.7h0M1071.6 1055.8h0M1081.8 1070.2h0M1087.2 1081.4h0M1098.7 1071.2h0M1108.1 1062.0h0M1122.3 1050.5h0M1137.5 1040.1h0M1147.2 1040.5h0M1160.9 1031.7h0M1170.2 1035.4h0M1180.6 1029.9h0M1195.2 1020.9h0M1208.3 1018.6h0M1217.0 1015.7h0M1224.7 1011.1h0M1241.9 1007.7h0M1257.8 1001.7h0M1274.8 1003.7h0M1286.1 1008.2h0M1294.8 1016.2h0M1305.4 1025.2h0M1314.3 1023.1h0M1327.1 1020.0h0M1334.0 1012.1h0M1344.4 1010.0h0M1358.4 1002.0h0M1369.4 999.5h0M1382.7 993.4h0M1387.2 978.7h0M1400.9 974.3h0M1415.4 978.1h0M1426.5 980.3h0M1443.6 986.1h0M1445.8 995.0h0M1446.3 1013.1h0M1447.8 1026.6h0M1460.8 1033.0h0M1462.2 1047.2h0M1462.6 1060.1h0M1463.0 1070.8h0M1463.4 1083.3h0M1473.6 1089.4h0M1479.8 1080.0h0M1489.8 1068.1h0M1502.1 1059.9h0M1505.1 1051.4h0M1514.0 1047.2h0M1524.5 1035.1h0M1532.3 1024.5h0M1542.6 1024.7h0M1556.5 1027.4h0M1570.4 1031.3h0M1585.4 1029.4h0M1597.0 1034.5h0M1615.0 1031.5h0M1624.0 1033.2h0M1638.0 1025.2h0M1653.1 1020.4h0M1665.6 1017.5h0M1675.1 1018.1h0M1680.9 1026.3h0M1688.4 1023.7h0M1702.4 1017.0h0M1716.0 1017.8h0M1724.6 1022.4h0M1729.8 1030.4h0M1738.9 1034.7h0M1748.8 1032.8h0M1755.9 1024.0h0M1757.1 1014.8h0M1759.9 1004.1h0M1772.5 997.9h0M1789.3 995.3h0M1795.4 988.6h0M1803.1 979.9h0M1814.4 975.0h0M1823.6 968.7h0M1835.6 970.2h0M1841.1 977.2h0M1846.8 986.5h0M1851.5 997.1h0M1862.5 1010.6h0M1868.9 1020.8h0M1881.8 1025.3h0M1894.0 1024.1h0M1906.9 1014.9h0M1919.7 1014.6h0M1931.7 1016.5h0M1945.7 1015.6h0M1957.7 1011.9h0M1969.6 1010.0h0M1981.2 1004.6h0M1990.5 1004.5h0M2004.7 1002.1h0M2013.2 992.4h0M2021.8 988.9h0M2033.6 989.0h0M2041.3 983.3h0M2054.2 981.6h0M2063.5 991.8h0M2080.5 993.3h0M2090.5 991.2h0M2104.5 995.2h0M2113.8 982.3h0M2123.7 978.2h0M2135.5 984.5h0M2143.9 995.6h0M2150.9 999.8h0M2163.5 1002.4h0M2170.6 1018.6h0M2174.3 1033.3h0M2192.0 1032.7h0M2200.8 1034.8h0M2215.3 1031.7h0M2230.6 1027.5h0M2242.3 1025.0h0M2253.6 1025.5h0M2268.1 1024.1h0M2273.6 1013.4h0M2266.9 1001.2h0M2254.9 999.9h0M2237.9 997.7h0M2222.2 1001.0h0M2209.7 1003.8h0M2194.1 1004.1h0M2178.8 995.4h0M2165.6 987.9h0M2161.4 976.9h0M2154.1 970.5h0M2142.2 961.4h0M2129.8 950.4h0M2115.7 950.2h0M2105.5 955.1h0M2090.8 957.3h0M2075.4 958.0h0M2064.1 954.0h0M2050.6 947.5h0M2037.8 956.1h0M2020.5 953.8h0M2012.0 957.4h0M1996.6 967.6h0M1982.2 975.2h0M1972.4 978.1h0M1961.8 979.2h0M1949.7 982.8h0M1935.8 988.3h0M1921.5 985.0h0M1908.6 987.2h0M1893.3 979.1h0M1889.0 966.0h0M1879.9 964.8h0M1868.9 955.2h0M1854.4 945.8h0M1849.8 936.2h0M1844.9 927.9h0M1833.8 923.0h0M1817.6 929.1h0M1800.6 927.1h0M1792.0 938.0h0M1785.8 946.4h0M1775.7 958.0h0M1762.4 969.4h0M1748.4 978.0h0M1739.3 983.7h0M1730.0 983.6h0M1716.4 984.1h0M1707.3 978.2h0M1698.6 977.5h0M1682.9 980.3h0M1668.6 988.5h0M1654.0 988.9h0M1636.8 994.6h0M1621.3 995.5h0M1611.0 995.4h0M1598.3 998.2h0M1586.8 997.4h0M1574.3 1000.5h0M1561.9 1004.2h0M1553.2 996.9h0M1537.4 991.1h0M1527.5 996.7h0M1519.7 1006.5h0M1511.0 1014.5h0M1499.9 1018.8h0M1493.4 1025.1h0M1482.3 1035.2h0M1473.4 1037.5h0M1463.1 1023.6h0M1461.4 1006.6h0M1458.6 994.1h0M1455.5 979.6h0M1453.2 962.7h0M1446.7 954.8h0M1436.0 943.4h0M1422.9 932.0h0M1410.4 927.0h0M1394.8 927.2h0M1390.3 937.4h0M1385.3 944.7h0M1376.8 951.8h0M1361.7 957.8h0M1352.6 966.1h0M1342.1 972.5h0M1333.3 976.4h0M1321.9 982.0h0M1311.8 986.1h0M1299.2 980.5h0M1290.0 978.8h0M1281.1 974.5h0M1272.8 971.3h0M1255.7 965.5h0M1240.2 967.1h0M1230.4 972.4h0M1219.2 975.9h0M1208.7 979.2h0M1196.9 986.6h0M1184.9 994.1h0M1170.7 1001.2h0M1156.4 1005.4h0M1147.9 1009.4h0M1135.7 1017.5h0M1129.2 1024.2h0M1119.0 1032.1h0M1110.0 1035.2h0M1097.9 1035.1h0M1088.5 1030.5h0M1080.0 1017.0h0M1070.2 1016.7h0M1054.7 1019.5h0M1045.3 1016.9h0M1037.5 1008.7h0M1027.9 998.6h0M1018.2 988.9h0M1008.6 990.6h0M995.6 990.4h0M981.6 991.8h0M965.0 989.7h0M948.2 984.3h0M933.3 986.9h0M922.0 986.4h0M909.0 992.4h0M895.7 995.5h0M886.7 996.6h0M873.1 996.0h0M861.9 999.1h0M852.1 994.6h0M839.0 997.3h0M827.8 997.9h0M812.4 988.3h0M800.1 975.1h0M790.5 979.2h0M772.9 974.8h0M762.2 974.5h0M750.2 982.9h0M734.8 991.7h0M723.0 993.1h0M710.2 982.3h0M704.2 969.8h0M694.3 967.8h0M679.5 969.1h0M666.2 968.7h0M652.0 977.5h0M635.3 980.8h0M624.3 984.1h0M610.2 996.2h0M598.1 1005.3h0M584.1 998.0h0M570.1 1001.2h0M554.8 994.6h0M546.0 989.3h0M537.9 982.7h0M522.2 988.0h0M504.6 990.6h0M488.9 988.7h0M473.2 987.9h0M457.3 996.2h0M439.4 998.7h0M421.8 1000.0h0M413.7 990.0h0M406.6 994.7h0M394.7 993.5h0M385.0 998.5h0M376.2 1010.7h0M366.1 1011.2h0M355.3 1011.5h0M343.5 1016.8h0M334.3 1018.8h0M318.6 1022.1h0M305.3 1024.0h0M289.5 1014.6h0M274.3 1013.4h0M261.0 1014.3h0M251.0 1017.9h0M236.9 1019.1h0M222.0 1020.7h0M224.6 1012.2h0M257.9 1014.3h0M285.7 1010.0h0M358.6 1009.0h0M388.6 982.6h0M415.4 983.9h0M476.4 982.6h0M538.6 980.0h0M585.7 996.8h0M630.7 979.0h0M667.1 966.1h0M687.5 961.8h0M705.7 966.1h0M767.9 973.6h0M802.1 971.9h0M850.4 988.2h0M879.3 991.8h0M917.9 983.9h0M939.3 981.8h0M973.6 987.5h0M1001.4 982.6h0M1020.7 986.5h0M1040.0 1005.8h0M1074.3 1010.0h0M1247.9 962.5h0M1280.0 971.5h0M1362.5 949.0h0M1405.5 922.0h0M1533.3 984.6h0M1582.1 985.4h0M1614.3 994.0h0M1655.0 988.2h0M1682.9 977.9h0M1706.4 968.2h0M1725.7 983.2h0M1800.7 926.0h0M1837.1 920.0h0M1880.0 956.5h0M1888.6 946.8h0M1922.9 984.3h0M2025.7 951.1h0M2047.1 946.8h0M2085.7 954.8h0M2128.6 947.9h0M2244.3 996.1h0M252.5 1060.3h0M281.4 1051.8h0M306.1 1056.0h0M374.6 1060.3h0M406.8 1066.8h0M429.3 1043.2h0M450.7 1036.8h0M474.3 1033.5h0M497.9 1020.7h0M517.1 1023.9h0M547.1 1020.7h0M603.9 1046.8h0M628.6 1035.7h0M677.9 1016.4h0M714.3 1031.8h0M737.9 1028.2h0M782.9 1020.7h0M826.8 1037.8h0M877.1 1035.7h0M920.0 1023.9h0M971.4 1029.2h0M1005.7 1028.2h0M1040.0 1050.7h0M1052.9 1051.8h0M1092.5 1085.0h0M1149.3 1043.8h0M1171.8 1037.4h0M1202.9 1020.7h0M1241.4 1011.0h0M1267.1 1007.8h0M1301.4 1029.2h0M1320.7 1026.7h0M1350.7 1010.0h0M1380.0 1000.8h0M1469.4 1090.8h0M1571.6 1032.1h0M1588.6 1035.7h0M1633.6 1034.6h0M1681.8 1037.4h0M1730.0 1036.8h0M1873.6 1028.2h0M1892.9 1032.5h0M1944.3 1016.8h0M2000.0 1005.7h0M2034.3 991.1h0M2077.1 997.1h0M2107.1 997.1h0M2143.6 1000.3h0M2169.3 1037.8h0M2206.8 1036.8h0M2227.1 1031.4h0M2265.7 1028.2h0" fill="none" stroke="#ff0000" stroke-width="21.5" stroke-linecap="round"/></g>
<text class="t" x="193" y="839.0" font-size="77.5" fill="#262626" text-anchor="end">5</text>
<text class="t" x="193" y="1079.5" font-size="77.5" fill="#262626" text-anchor="end">0</text>
<text class="t" x="193" y="1320.0" font-size="77.5" fill="#262626" text-anchor="end">-5</text>
<text class="t" x="220.8" y="1396.3" font-size="77.5" fill="#262626" text-anchor="middle">0</text>
<text class="t" x="648.3" y="1396.3" font-size="77.5" fill="#262626" text-anchor="middle">5</text>
<text class="t" x="1075.8" y="1396.3" font-size="77.5" fill="#262626" text-anchor="middle">10</text>
<text class="t" x="1503.3" y="1396.3" font-size="77.5" fill="#262626" text-anchor="middle">15</text>
<text class="t" x="1930.8" y="1396.3" font-size="77.5" fill="#262626" text-anchor="middle">20</text>
<text class="t" transform="translate(88 1049.5) rotate(-90)" font-size="70.2" fill="#262626" text-anchor="middle">E (meter)</text>
<path d="M285 870.5 H476" stroke="#00ff00" stroke-width="8.5" fill="none"/><circle cx="380.3" cy="870.5" r="10.8" fill="#00ff00"/>
<text x="488.6" y="897.2" font-size="69.8" fill="#000" stroke="#000" stroke-width="1.3">BDS-2,RMS=1.352m</text>
<path d="M1168 870.5 H1359.3" stroke="#ff0000" stroke-width="8.5" fill="none"/><circle cx="1263.7" cy="870.5" r="10.8" fill="#ff0000"/>
<text x="1371.8" y="897.2" font-size="69.8" fill="#000" stroke="#000" stroke-width="1.3">BDS-2+BDS-3,RMS=1.108m</text>
</g>
<g id="panel3">
<rect x="222" y="1484" width="2060" height="481" fill="#fffaf6"/>
<path d="M649.5 1484 V1965 M1077.0 1484 V1965 M1504.5 1484 V1965 M1932.0 1484 V1965 M222 1724.5 H2282" stroke="#dedad7" stroke-width="4" fill="none"/>
<path d="M649.5 1484 v23 M649.5 1965 v-23 M1077.0 1484 v23 M1077.0 1965 v-23 M1504.5 1484 v23 M1504.5 1965 v-23 M1932.0 1484 v23 M1932.0 1965 v-23 M222 1724.5 h23 M2282 1724.5 h-23" stroke="#262626" stroke-width="4" fill="none"/>
<rect x="222" y="1484" width="2060" height="481" fill="none" stroke="#262626" stroke-width="4"/>
<g><path d="M222.0 1730.8 222.2 1778.4 228.7 1785.6 238.7 1792.9 246.5 1792.6 262.2 1785.2 267.9 1785.6 272.5 1788.8 282.3 1800.6 288.3 1804.7 296.2 1807.0 306.8 1798.9 330.9 1787.7 336.6 1788.2 349.7 1797.2 382.0 1772.2 386.8 1770.1 389.4 1770.0 394.3 1771.6 401.2 1778.4 407.9 1777.6 440.2 1768.2 445.6 1768.1 448.1 1769.0 452.2 1772.6 453.4 1775.0 454.1 1779.6 455.1 1772.8 457.4 1767.5 459.5 1765.5 464.9 1763.6 478.5 1765.9 486.1 1769.7 494.6 1770.4 502.6 1774.9 514.6 1769.7 521.7 1761.2 524.7 1759.7 537.2 1755.8 539.3 1740.8 542.5 1736.4 547.5 1734.1 562.9 1731.8 567.6 1733.3 583.4 1748.3 589.1 1751.1 593.8 1749.9 598.4 1749.8 620.4 1754.3 624.7 1758.0 628.4 1768.1 644.4 1768.3 658.7 1777.2 660.9 1777.7 676.3 1767.8 678.8 1766.7 684.1 1766.3 686.7 1767.1 690.8 1770.5 695.3 1780.7 699.1 1776.9 718.6 1762.3 723.8 1761.4 728.3 1762.9 730.3 1754.7 733.7 1750.6 738.5 1748.6 743.8 1749.2 760.9 1755.6 763.8 1757.2 766.0 1759.6 784.7 1786.6 789.3 1791.1 794.9 1786.2 803.9 1783.8 811.5 1775.8 825.2 1771.9 829.5 1768.5 830.8 1761.5 832.4 1758.9 834.6 1756.9 837.3 1755.5 850.2 1751.2 855.5 1750.9 858.1 1751.7 862.3 1755.1 863.6 1757.5 864.5 1762.3 867.9 1759.7 876.0 1751.7 878.3 1749.9 881.1 1748.8 884.1 1748.5 887.0 1749.1 893.9 1751.4 895.9 1749.7 897.3 1742.2 898.8 1739.6 901.0 1737.6 903.7 1736.2 906.6 1735.7 909.6 1736.0 912.4 1737.1 936.0 1750.3 960.4 1771.7 962.9 1773.0 969.3 1770.2 972.1 1770.0 1000.5 1779.1 1003.3 1780.5 1014.1 1793.3 1016.1 1797.4 1017.4 1802.5 1023.2 1798.6 1026.1 1797.9 1029.1 1798.0 1031.9 1798.9 1034.3 1800.6 1040.4 1806.0 1048.7 1802.3 1051.7 1802.2 1054.6 1802.8 1057.2 1804.3 1071.2 1822.3 1081.7 1829.9 1090.8 1840.5 1095.3 1836.7 1098.7 1834.8 1111.6 1830.5 1116.9 1830.1 1121.8 1832.4 1123.7 1834.4 1128.9 1846.6 1132.2 1852.0 1140.6 1852.8 1148.3 1848.5 1153.9 1847.1 1159.3 1848.8 1164.7 1852.2 1165.7 1851.1 1166.4 1842.0 1168.2 1836.8 1177.7 1828.1 1184.3 1819.1 1185.9 1811.6 1188.2 1807.0 1192.3 1804.0 1202.8 1799.6 1206.3 1795.6 1209.9 1785.6 1212.8 1781.3 1217.5 1778.8 1225.1 1777.0 1230.0 1771.7 1231.4 1761.8 1234.8 1757.2 1252.2 1749.8 1265.0 1749.6 1278.6 1744.3 1284.2 1745.1 1288.7 1748.6 1290.0 1751.2 1294.7 1793.9 1302.4 1804.8 1311.4 1810.2 1333.1 1792.9 1337.9 1791.8 1345.6 1791.8 1351.5 1788.3 1356.5 1779.9 1358.4 1777.6 1360.8 1775.9 1363.6 1774.9 1366.6 1774.7 1369.5 1775.4 1380.7 1783.3 1386.2 1788.0 1393.2 1787.0 1410.0 1773.1 1420.1 1763.4 1424.8 1761.9 1435.3 1761.0 1448.8 1753.6 1451.8 1753.3 1454.7 1753.8 1457.4 1755.1 1459.6 1757.1 1461.2 1759.6 1462.1 1762.5 1463.6 1773.0 1475.6 1781.8 1481.2 1780.9 1498.6 1776.4 1512.2 1776.8 1514.9 1778.0 1517.2 1779.9 1521.5 1787.4 1524.3 1788.7 1552.6 1777.5 1555.5 1776.9 1558.5 1777.0 1561.4 1778.0 1565.8 1781.6 1568.0 1779.9 1574.5 1771.4 1589.5 1756.4 1591.9 1754.6 1594.6 1753.5 1597.6 1753.3 1600.5 1753.8 1610.1 1756.9 1633.4 1755.1 1636.2 1756.1 1638.7 1757.8 1640.6 1760.1 1647.6 1784.3 1654.3 1792.7 1658.4 1796.5 1666.6 1793.6 1672.1 1794.4 1674.5 1795.8 1682.9 1806.4 1687.6 1817.2 1695.9 1824.9 1697.8 1829.6 1698.5 1834.5 1700.4 1837.2 1705.1 1836.4 1708.0 1837.0 1710.6 1838.4 1712.7 1840.4 1714.2 1843.0 1715.5 1850.4 1717.7 1847.7 1724.2 1835.6 1726.6 1833.6 1729.4 1832.5 1732.4 1832.1 1735.4 1832.6 1738.1 1833.9 1744.5 1838.2 1751.8 1845.1 1755.3 1847.4 1763.3 1842.2 1774.1 1839.0 1776.7 1838.5 1781.8 1839.6 1785.8 1843.0 1790.8 1854.5 1793.4 1857.8 1799.3 1855.8 1801.9 1855.7 1804.5 1856.4 1809.8 1859.7 1812.4 1856.9 1815.0 1848.2 1816.8 1845.8 1819.2 1844.1 1822.0 1843.1 1825.0 1842.8 1833.0 1845.3 1840.7 1839.1 1848.8 1831.0 1853.8 1828.1 1859.5 1828.3 1867.4 1830.6 1875.3 1828.7 1893.5 1815.0 1900.3 1805.3 1910.6 1798.5 1915.7 1797.9 1918.2 1798.6 1925.0 1802.9 1929.5 1799.8 1933.0 1798.2 1947.3 1794.5 1970.6 1785.1 1973.3 1785.0 1978.3 1786.9 1984.6 1793.8 2000.1 1781.5 2005.7 1780.8 2008.5 1781.5 2013.5 1785.0 2016.2 1781.8 2021.0 1768.4 2025.0 1764.8 2027.5 1763.8 2030.2 1763.5 2035.4 1765.0 2047.2 1776.4 2052.2 1771.6 2055.0 1770.4 2058.0 1770.0 2065.9 1771.9 2074.5 1764.7 2100.2 1751.8 2105.6 1750.7 2110.9 1752.5 2113.0 1754.3 2119.6 1766.7 2124.0 1769.3 2134.9 1767.0 2138.5 1766.8 2150.2 1768.8 2152.9 1770.5 2154.9 1773.0 2159.2 1780.1 2167.5 1782.5 2175.9 1780.7 2182.9 1776.3 2188.3 1774.7 2193.9 1776.1 2205.7 1786.7 2207.4 1785.3 2214.1 1768.5 2216.0 1766.4 2221.1 1764.1 2234.6 1765.1 2237.8 1765.9 2249.1 1775.1 2256.7 1770.7 2266.9 1768.1 2273.2 1762.5 2274.0 1759.4 2274.0 1715.9 2271.1 1706.6 2264.1 1697.9 2256.8 1690.6 2244.0 1682.4 2232.1 1678.4 2228.3 1674.1 2226.8 1668.9 2225.6 1683.3 2217.4 1696.4 2215.1 1698.0 2209.8 1699.3 2204.6 1697.9 2201.0 1694.8 2200.4 1702.3 2199.7 1705.3 2198.2 1707.9 2196.1 1710.0 2193.5 1711.5 2190.7 1712.1 2180.1 1719.8 2175.1 1720.7 2159.9 1716.3 2151.7 1709.7 2149.6 1707.3 2143.9 1689.4 2141.5 1678.0 2135.6 1685.7 2129.1 1697.8 2124.5 1700.9 2119.0 1701.3 2116.4 1700.4 2112.2 1696.8 2106.6 1682.3 2103.7 1680.0 2097.1 1681.8 2092.0 1681.9 2087.4 1679.7 2082.3 1675.4 2077.2 1682.2 2073.5 1685.3 2059.6 1688.6 2056.7 1688.1 2054.0 1686.8 2051.8 1684.8 2050.2 1682.2 2049.4 1679.4 2048.1 1670.8 2044.4 1675.4 2042.1 1676.9 2036.8 1677.9 2031.7 1676.5 2026.9 1682.8 2023.2 1695.8 2021.3 1699.5 2014.9 1707.7 2010.6 1710.9 1999.5 1715.3 1990.4 1714.7 1983.1 1720.5 1978.2 1722.8 1972.8 1722.2 1964.3 1716.9 1963.5 1717.4 1958.8 1726.7 1956.3 1728.8 1941.2 1733.1 1928.6 1737.8 1923.3 1737.2 1916.6 1732.9 1909.1 1738.5 1899.5 1744.3 1885.6 1757.8 1880.6 1759.3 1878.0 1759.1 1872.3 1756.9 1870.2 1764.0 1866.6 1767.8 1864.2 1769.0 1858.9 1769.5 1851.2 1766.4 1844.1 1771.4 1819.1 1796.8 1816.8 1798.6 1811.2 1800.0 1805.6 1798.3 1795.3 1787.3 1781.5 1776.1 1771.3 1781.3 1765.9 1782.4 1760.6 1780.8 1743.2 1769.5 1720.9 1765.6 1705.1 1763.6 1697.3 1768.9 1694.3 1769.6 1691.3 1769.4 1688.4 1768.3 1675.7 1756.2 1664.0 1746.6 1640.4 1719.1 1638.6 1716.3 1633.3 1703.4 1632.5 1700.0 1631.6 1686.5 1627.9 1682.3 1610.8 1678.1 1602.5 1681.9 1595.1 1687.1 1590.2 1698.4 1586.1 1714.8 1584.7 1718.1 1574.2 1733.1 1569.3 1735.5 1563.7 1735.2 1559.1 1732.1 1556.6 1727.1 1555.3 1720.6 1550.2 1717.1 1541.7 1715.8 1538.6 1717.7 1531.9 1728.3 1527.6 1730.9 1522.5 1731.3 1507.0 1728.4 1494.0 1718.4 1485.3 1709.8 1458.6 1691.6 1456.1 1687.3 1450.5 1668.4 1449.5 1669.4 1444.6 1678.4 1442.7 1680.2 1430.2 1685.5 1424.9 1690.0 1422.6 1700.6 1419.2 1704.8 1414.2 1706.7 1399.4 1708.6 1392.8 1712.7 1390.0 1713.9 1387.0 1714.3 1384.0 1713.8 1381.2 1712.5 1374.8 1708.2 1367.9 1701.7 1364.8 1703.2 1359.9 1711.2 1356.4 1714.8 1343.9 1719.3 1335.1 1729.0 1323.4 1737.6 1315.5 1745.5 1313.2 1747.2 1307.6 1748.6 1304.7 1748.1 1299.9 1745.1 1292.1 1729.7 1290.8 1686.7 1288.8 1684.7 1280.8 1689.0 1278.0 1690.1 1274.9 1690.3 1271.9 1689.6 1245.2 1679.1 1240.1 1684.7 1218.3 1713.5 1208.7 1718.7 1196.5 1728.0 1191.1 1728.8 1182.7 1726.2 1158.5 1747.7 1145.5 1754.5 1142.7 1755.5 1139.6 1755.6 1126.4 1754.0 1122.1 1751.1 1116.9 1742.1 1110.7 1750.3 1108.6 1752.4 1106.0 1753.9 1103.1 1754.6 1100.1 1754.4 1097.3 1753.4 1094.8 1751.7 1091.5 1747.1 1085.3 1754.8 1080.4 1757.0 1077.7 1757.1 1062.7 1755.7 1037.0 1748.2 1025.3 1743.5 1016.8 1734.1 1008.4 1721.6 999.9 1714.8 994.6 1712.2 983.6 1716.4 980.8 1716.4 975.7 1714.3 967.1 1707.9 964.0 1704.1 959.7 1695.5 958.6 1691.6 957.9 1683.9 953.5 1688.1 950.9 1689.2 937.6 1692.9 932.3 1691.8 930.1 1690.3 927.1 1685.8 924.5 1663.8 920.2 1655.1 914.7 1651.2 904.2 1648.7 900.0 1645.1 896.4 1678.8 895.8 1681.5 892.8 1686.0 873.4 1696.0 868.2 1697.2 865.5 1696.7 863.0 1695.6 859.3 1691.9 854.9 1677.8 853.6 1676.8 850.8 1678.9 843.6 1689.7 835.5 1705.8 830.1 1718.5 826.0 1721.9 820.8 1722.9 815.7 1721.3 797.0 1710.1 791.1 1712.5 785.9 1713.2 781.0 1711.3 772.1 1705.1 763.6 1703.4 758.6 1701.0 755.6 1696.4 754.1 1680.5 750.4 1672.5 746.8 1669.1 739.7 1672.8 733.2 1678.6 725.9 1688.9 710.9 1702.9 708.2 1704.7 705.1 1705.6 701.8 1705.6 688.9 1703.5 678.9 1698.7 669.9 1705.1 666.8 1705.7 663.7 1705.5 653.2 1700.0 650.8 1698.1 643.3 1684.1 639.3 1680.0 633.6 1683.1 628.6 1684.3 617.5 1681.9 614.9 1680.8 612.3 1678.8 602.5 1676.9 592.7 1677.8 587.5 1675.5 584.2 1670.8 582.8 1658.7 578.3 1653.5 570.8 1647.7 560.4 1656.2 557.3 1657.9 553.9 1658.6 538.4 1658.8 527.6 1653.8 525.6 1656.2 524.7 1676.2 521.2 1693.0 520.3 1695.5 516.8 1699.6 511.8 1701.4 506.5 1700.6 492.6 1690.4 482.4 1689.2 476.5 1697.2 472.4 1700.4 456.5 1703.6 453.7 1703.0 449.1 1700.0 446.6 1695.0 445.1 1687.4 442.2 1684.5 435.2 1687.4 423.0 1685.9 420.8 1687.3 412.2 1707.9 407.8 1711.3 402.3 1712.1 388.9 1707.1 384.5 1703.9 382.3 1698.9 380.4 1688.0 378.5 1690.2 373.4 1692.7 367.7 1692.2 364.7 1690.6 363.5 1708.9 362.4 1711.3 358.6 1715.0 353.6 1716.5 348.4 1715.3 339.3 1708.0 334.2 1704.7 319.0 1717.7 306.6 1731.8 303.8 1733.2 300.7 1733.6 287.9 1733.6 282.4 1732.1 278.5 1728.1 276.1 1720.1 272.1 1716.5 268.6 1717.4 259.4 1723.3 256.6 1724.6 253.7 1725.0 250.7 1724.7 248.0 1723.5 239.7 1715.1Z" fill="#00ff00" stroke="#00ff00" stroke-width="11.5" stroke-linejoin="round"/><path d="M240.7 1711.1v21.5M275.0 1715.4v21.5M332.9 1701.9v21.5M361.8 1686.0v21.5M380.6 1665.0v21.5M420.7 1685.4v21.5M444.3 1682.2v21.5M477.5 1688.6v21.5M524.6 1651.1v21.5M570.7 1644.7v21.5M602.9 1676.8v21.5M641.4 1677.5v21.5M677.9 1696.8v21.5M748.6 1666.8v21.5M797.9 1709.0v21.5M853.6 1674.0v21.5M899.6 1639.8v21.5M957.5 1679.6v21.5M995.0 1711.1v21.5M1092.5 1738.5v21.5M1118.2 1732.8v21.5M1180.4 1724.6v21.5M1242.5 1676.8v21.5M1290.7 1682.2v21.5M1370.0 1699.3v21.5M1450.4 1664.6v21.5M1539.3 1715.4v21.5M1610.0 1677.5v21.5M1702.1 1763.2v21.5M1782.5 1774.3v21.5M1850.0 1764.9v21.5M1865.0 1752.5v21.5M1916.4 1730.4v21.5M1964.6 1714.8v21.5M1987.1 1714.3v21.5M2027.9 1674.7v21.5M2048.2 1662.9v21.5M2083.6 1673.2v21.5M2106.1 1679.0v21.5M2141.4 1673.2v21.5M2187.5 1711.8v21.5M2200.4 1689.7v21.5M2225.0 1658.6v21.5M235.4 1793.1v-21.5M298.6 1808.1v-21.5M350.0 1800.0v-21.5M397.1 1779.0v-21.5M453.9 1787.1v-21.5M502.1 1776.4v-21.5M587.9 1751.8v-21.5M620.0 1768.2v-21.5M662.9 1778.5v-21.5M696.1 1784.3v-21.5M728.2 1767.4v-21.5M789.3 1795.2v-21.5M864.3 1765.2v-21.5M896.4 1752.8v-21.5M962.9 1774.2v-21.5M1016.4 1806.0v-21.5M1037.9 1807.5v-21.5M1040.0 1807.5v-21.5M1089.3 1845.0v-21.5M1142.9 1853.1v-21.5M1166.4 1855.2v-21.5M1267.1 1749.6v-21.5M1312.1 1812.4v-21.5M1348.6 1791.8v-21.5M1382.9 1788.6v-21.5M1472.9 1782.4v-21.5M1524.3 1789.7v-21.5M1565.0 1785.0v-21.5M1608.9 1757.1v-21.5M1656.1 1798.2v-21.5M1696.8 1840.2v-21.5M1715.0 1857.4v-21.5M1755.7 1849.7v-21.5M1790.0 1860.0v-21.5M1811.4 1863.2v-21.5M1835.0 1846.7v-21.5M1867.1 1831.0v-21.5M1925.0 1805.3v-21.5M1983.9 1798.9v-21.5M2015.0 1789.2v-21.5M2047.1 1781.8v-21.5M2068.6 1773.2v-21.5M2122.1 1770.0v-21.5M2167.1 1782.8v-21.5M2205.7 1789.7v-21.5M2248.6 1777.9v-21.5" fill="none" stroke="#00ff00" stroke-width="8.5"/><path d="M222.0 1731.9h0M222.1 1747.1h0M222.1 1757.8h0M222.2 1773.9h0M229.5 1786.1h0M240.1 1792.9h0M254.4 1788.9h0M268.2 1785.8h0M275.2 1792.0h0M284.9 1802.4h0M298.4 1805.3h0M310.1 1797.3h0M326.3 1789.9h0M341.1 1791.3h0M351.6 1795.7h0M360.5 1788.8h0M368.6 1782.5h0M382.2 1772.1h0M396.5 1773.8h0M409.6 1777.1h0M422.5 1773.4h0M435.9 1769.5h0M446.9 1768.6h0M454.1 1779.4h0M456.6 1769.4h0M469.4 1764.3h0M483.9 1768.6h0M498.7 1772.7h0M509.1 1772.1h0M517.1 1766.8h0M526.4 1759.2h0M537.8 1751.4h0M541.3 1738.0h0M556.4 1732.8h0M568.9 1734.5h0M578.3 1743.4h0M593.7 1750.0h0M604.2 1751.0h0M615.1 1753.2h0M626.0 1761.6h0M636.8 1768.2h0M649.3 1771.3h0M661.9 1777.1h0M673.2 1769.9h0M687.6 1767.9h0M697.1 1778.9h0M710.7 1768.2h0M724.0 1761.5h0M730.7 1754.2h0M746.9 1750.4h0M759.5 1755.1h0M770.1 1765.5h0M780.2 1780.1h0M790.4 1790.1h0M801.7 1784.4h0M814.5 1775.0h0M828.2 1769.5h0M837.6 1755.4h0M852.1 1751.1h0M863.6 1757.6h0M874.7 1752.9h0M887.6 1749.3h0M896.6 1746.0h0M909.1 1735.9h0M925.4 1744.4h0M934.8 1749.7h0M942.2 1755.8h0M955.5 1767.4h0M970.8 1770.1h0M983.1 1773.5h0M994.1 1777.0h0M1007.2 1785.0h0M1016.9 1800.3h0M1025.1 1798.1h0M1037.0 1803.0h0M1050.6 1802.2h0M1059.8 1807.6h0M1067.9 1818.0h0M1075.2 1825.2h0M1085.5 1834.3h0M1093.2 1838.5h0M1101.7 1833.8h0M1114.1 1830.3h0M1123.4 1834.0h0M1127.5 1843.3h0M1132.8 1852.0h0M1145.2 1850.2h0M1156.7 1848.0h0M1166.1 1845.4h0M1171.4 1833.9h0M1179.4 1825.8h0M1184.8 1816.6h0M1189.6 1806.0h0M1203.9 1798.3h0M1208.8 1788.6h0M1217.4 1778.9h0M1230.3 1769.8h0M1238.1 1755.8h0M1250.6 1750.5h0M1267.7 1748.6h0M1282.3 1744.9h0M1290.1 1752.0h0M1291.2 1761.8h0M1292.4 1772.5h0M1294.2 1789.3h0M1299.5 1800.6h0M1312.8 1809.1h0M1327.4 1797.5h0M1343.9 1791.8h0M1354.1 1783.9h0M1359.6 1776.7h0M1370.6 1776.1h0M1379.7 1782.5h0M1393.1 1787.0h0M1405.5 1776.8h0M1418.9 1764.5h0M1434.2 1761.1h0M1450.9 1753.3h0M1461.9 1762.1h0M1465.7 1774.6h0M1480.7 1781.0h0M1492.0 1778.1h0M1508.6 1776.7h0M1520.5 1785.7h0M1536.0 1784.1h0M1545.0 1780.5h0M1555.2 1776.9h0M1570.2 1777.0h0M1576.9 1769.0h0M1586.5 1759.5h0M1599.4 1753.6h0M1612.7 1756.7h0M1630.4 1755.4h0M1642.4 1766.4h0M1645.9 1778.3h0M1650.2 1787.5h0M1664.0 1794.5h0M1676.0 1797.8h0M1683.1 1806.8h0M1687.2 1816.4h0M1693.6 1822.7h0M1699.4 1835.9h0M1710.1 1838.2h0M1715.9 1849.9h0M1725.5 1834.6h0M1738.3 1834.1h0M1752.7 1845.7h0M1760.8 1843.8h0M1776.4 1838.6h0M1788.1 1848.3h0M1800.7 1855.8h0M1809.1 1859.2h0M1815.2 1847.9h0M1827.9 1843.7h0M1840.5 1839.3h0M1850.5 1830.0h0M1861.7 1828.9h0M1878.4 1826.3h0M1892.6 1815.6h0M1902.8 1803.6h0M1919.5 1799.4h0M1931.8 1798.7h0M1941.2 1796.1h0M1956.2 1790.9h0M1965.6 1787.1h0M1980.4 1789.1h0M1991.8 1788.1h0M2000.6 1781.5h0M2010.5 1783.0h0M2016.8 1780.0h0M2020.5 1769.9h0M2036.1 1765.7h0M2044.2 1773.5h0M2058.6 1770.1h0M2068.1 1770.0h0M2078.1 1762.9h0M2090.4 1756.7h0M2101.7 1751.5h0M2116.0 1759.8h0M2122.8 1768.6h0M2136.2 1766.9h0M2147.1 1768.3h0M2155.2 1773.5h0M2167.0 1782.4h0M2178.7 1778.9h0M2191.5 1775.5h0M2203.9 1785.1h0M2209.4 1780.4h0M2212.9 1771.5h0M2225.3 1764.4h0M2242.7 1769.9h0M2249.9 1774.7h0M2262.2 1769.3h0M2274.0 1757.0h0M2274.0 1739.7h0M2274.0 1720.8h0M2271.2 1706.9h0M2259.0 1692.8h0M2251.4 1687.1h0M2239.3 1680.8h0M2227.2 1670.1h0M2225.8 1680.5h0M2219.9 1692.3h0M2209.4 1699.2h0M2200.7 1697.8h0M2192.9 1711.6h0M2176.8 1720.4h0M2165.9 1718.0h0M2155.3 1712.5h0M2146.8 1698.5h0M2142.5 1682.6h0M2134.3 1688.1h0M2125.2 1700.5h0M2110.9 1693.5h0M2102.0 1680.5h0M2087.4 1679.7h0M2079.2 1679.5h0M2071.8 1685.7h0M2054.8 1687.2h0M2048.3 1671.8h0M2034.0 1677.2h0M2026.5 1684.1h0M2021.3 1699.6h0M2008.2 1711.9h0M1997.7 1715.2h0M1988.9 1715.9h0M1980.1 1721.9h0M1969.7 1720.3h0M1959.7 1724.9h0M1944.8 1732.1h0M1928.6 1737.8h0M1914.5 1734.5h0M1898.9 1744.8h0M1885.4 1757.8h0M1872.7 1757.0h0M1861.8 1769.2h0M1847.1 1769.3h0M1838.6 1777.0h0M1828.2 1787.6h0M1820.7 1795.2h0M1809.3 1799.4h0M1796.5 1788.6h0M1789.6 1782.7h0M1778.0 1777.9h0M1765.6 1782.4h0M1755.1 1777.2h0M1747.0 1772.0h0M1733.6 1767.8h0M1721.4 1765.7h0M1711.5 1764.5h0M1699.7 1767.3h0M1685.7 1765.7h0M1678.6 1759.0h0M1665.8 1748.0h0M1659.1 1740.9h0M1650.2 1730.5h0M1641.9 1720.9h0M1634.1 1705.3h0M1631.7 1687.6h0M1618.5 1680.0h0M1607.2 1679.8h0M1596.7 1686.0h0M1589.5 1701.3h0M1586.0 1715.0h0M1577.9 1727.9h0M1564.9 1735.3h0M1557.2 1728.4h0M1551.4 1717.9h0M1536.0 1721.9h0M1527.9 1730.8h0M1510.7 1729.1h0M1501.6 1724.2h0M1494.3 1718.7h0M1484.2 1709.0h0M1474.4 1702.4h0M1462.0 1694.0h0M1454.0 1680.1h0M1451.3 1671.1h0M1444.8 1678.0h0M1433.8 1684.0h0M1423.4 1697.0h0M1411.2 1707.1h0M1394.3 1711.7h0M1379.2 1711.2h0M1369.6 1703.3h0M1360.0 1711.2h0M1347.6 1718.0h0M1338.0 1725.8h0M1329.0 1733.4h0M1317.3 1743.6h0M1301.6 1746.1h0M1295.6 1736.7h0M1291.9 1724.9h0M1291.6 1714.4h0M1291.2 1701.7h0M1290.8 1688.8h0M1284.4 1687.1h0M1269.9 1688.8h0M1258.3 1684.3h0M1243.2 1681.3h0M1236.0 1690.1h0M1226.1 1703.2h0M1213.2 1716.3h0M1204.2 1722.1h0M1193.6 1728.4h0M1177.2 1731.1h0M1167.4 1739.7h0M1158.2 1747.8h0M1148.9 1752.8h0M1132.3 1754.7h0M1121.5 1750.1h0M1111.7 1749.0h0M1099.2 1754.1h0M1091.5 1747.1h0M1076.7 1757.0h0M1058.9 1754.6h0M1043.1 1750.0h0M1029.0 1745.0h0M1016.9 1734.2h0M1005.8 1719.5h0M996.8 1713.3h0M986.3 1715.3h0M971.3 1711.0h0M962.6 1701.4h0M957.6 1684.3h0M942.3 1691.6h0M929.4 1689.2h0M926.3 1679.4h0M924.6 1664.4h0M916.3 1652.3h0M902.7 1647.4h0M898.6 1658.3h0M897.1 1672.0h0M890.2 1687.3h0M876.9 1694.2h0M866.9 1697.0h0M857.0 1684.4h0M851.9 1678.0h0M842.0 1692.9h0M834.0 1709.4h0M829.3 1719.2h0M819.4 1722.4h0M805.3 1715.0h0M793.4 1711.6h0M781.2 1711.4h0M766.7 1704.0h0M756.6 1697.9h0M754.8 1688.0h0M751.1 1674.1h0M737.5 1674.8h0M725.7 1689.1h0M718.4 1695.9h0M705.3 1705.6h0M693.2 1704.2h0M676.2 1700.6h0M664.8 1705.6h0M655.8 1701.4h0M647.8 1692.5h0M640.1 1680.8h0M630.5 1683.8h0M614.5 1680.5h0M602.9 1677.0h0M587.2 1675.1h0M583.5 1664.8h0M577.5 1653.0h0M565.3 1652.1h0M556.2 1658.2h0M544.4 1658.7h0M528.0 1654.0h0M525.2 1665.5h0M524.3 1677.9h0M521.3 1692.8h0M509.5 1701.1h0M494.7 1691.9h0M481.4 1690.6h0M468.3 1701.2h0M451.2 1701.4h0M443.4 1685.7h0M426.3 1686.3h0M416.9 1696.5h0M409.3 1710.1h0M397.2 1710.2h0M387.9 1706.4h0M380.9 1690.5h0M371.5 1692.6h0M364.4 1695.8h0M362.9 1710.1h0M349.0 1715.5h0M335.1 1705.3h0M327.3 1710.6h0M315.1 1722.2h0M301.4 1733.5h0M282.8 1732.2h0M273.1 1717.4h0M260.4 1722.7h0M244.6 1720.1h0M233.8 1720.3h0M240.7 1711.1h0M275.0 1715.4h0M332.9 1701.9h0M361.8 1686.0h0M380.6 1665.0h0M420.7 1685.4h0M444.3 1682.2h0M477.5 1688.6h0M524.6 1651.1h0M570.7 1644.7h0M602.9 1676.8h0M641.4 1677.5h0M677.9 1696.8h0M748.6 1666.8h0M797.9 1709.0h0M853.6 1674.0h0M899.6 1639.8h0M957.5 1679.6h0M995.0 1711.1h0M1092.5 1738.5h0M1118.2 1732.8h0M1180.4 1724.6h0M1242.5 1676.8h0M1290.7 1682.2h0M1370.0 1699.3h0M1450.4 1664.6h0M1539.3 1715.4h0M1610.0 1677.5h0M1702.1 1763.2h0M1782.5 1774.3h0M1850.0 1764.9h0M1865.0 1752.5h0M1916.4 1730.4h0M1964.6 1714.8h0M1987.1 1714.3h0M2027.9 1674.7h0M2048.2 1662.9h0M2083.6 1673.2h0M2106.1 1679.0h0M2141.4 1673.2h0M2187.5 1711.8h0M2200.4 1689.7h0M2225.0 1658.6h0M235.4 1793.1h0M298.6 1808.1h0M350.0 1800.0h0M397.1 1779.0h0M453.9 1787.1h0M502.1 1776.4h0M587.9 1751.8h0M620.0 1768.2h0M662.9 1778.5h0M696.1 1784.3h0M728.2 1767.4h0M789.3 1795.2h0M864.3 1765.2h0M896.4 1752.8h0M962.9 1774.2h0M1016.4 1806.0h0M1037.9 1807.5h0M1040.0 1807.5h0M1089.3 1845.0h0M1142.9 1853.1h0M1166.4 1855.2h0M1267.1 1749.6h0M1312.1 1812.4h0M1348.6 1791.8h0M1382.9 1788.6h0M1472.9 1782.4h0M1524.3 1789.7h0M1565.0 1785.0h0M1608.9 1757.1h0M1656.1 1798.2h0M1696.8 1840.2h0M1715.0 1857.4h0M1755.7 1849.7h0M1790.0 1860.0h0M1811.4 1863.2h0M1835.0 1846.7h0M1867.1 1831.0h0M1925.0 1805.3h0M1983.9 1798.9h0M2015.0 1789.2h0M2047.1 1781.8h0M2068.6 1773.2h0M2122.1 1770.0h0M2167.1 1782.8h0M2205.7 1789.7h0M2248.6 1777.9h0" fill="none" stroke="#00ff00" stroke-width="21.5" stroke-linecap="round"/><path d="M222.0 1761.3 223.0 1766.2 230.9 1780.4 239.8 1783.4 249.3 1789.4 256.0 1784.8 260.0 1783.0 270.7 1780.9 276.4 1781.3 281.1 1784.5 282.6 1786.9 284.8 1797.6 289.9 1800.7 296.4 1802.3 303.1 1797.6 307.9 1795.8 313.0 1796.3 319.2 1800.1 327.2 1795.1 331.8 1793.6 346.8 1795.2 351.6 1791.4 355.9 1779.2 359.1 1774.7 368.0 1767.2 381.2 1759.7 386.6 1759.5 397.7 1764.7 400.2 1766.4 402.1 1768.8 406.1 1775.5 409.0 1776.1 418.2 1770.2 430.1 1758.7 441.7 1755.0 444.7 1755.3 447.5 1756.4 453.0 1759.6 460.7 1753.4 468.8 1745.3 471.2 1743.5 473.9 1742.4 476.8 1742.1 479.7 1742.6 482.4 1743.9 490.9 1750.0 494.2 1755.7 495.8 1754.4 500.5 1745.7 502.6 1743.9 507.9 1742.1 513.4 1743.2 528.4 1751.1 530.2 1753.0 534.9 1764.0 536.4 1765.5 539.3 1746.8 542.5 1742.4 547.5 1740.1 562.9 1737.8 567.7 1739.4 575.9 1747.1 587.8 1746.6 609.3 1750.9 612.2 1752.0 614.7 1753.8 624.9 1764.3 627.7 1771.9 632.9 1767.1 635.9 1765.9 648.2 1763.5 653.3 1765.0 663.0 1774.3 668.6 1777.5 680.2 1772.3 683.1 1772.2 686.0 1772.8 688.6 1774.2 690.7 1776.3 695.3 1786.7 696.6 1785.4 701.3 1774.4 714.8 1762.7 724.1 1749.3 726.2 1747.8 731.0 1746.4 744.3 1748.7 748.1 1750.3 754.5 1754.6 763.5 1762.9 777.4 1770.8 784.8 1782.4 789.7 1786.9 792.0 1784.9 794.2 1779.1 795.6 1776.5 797.7 1774.3 809.5 1769.2 821.2 1760.3 828.8 1758.4 834.4 1746.2 845.0 1737.8 847.8 1736.3 850.9 1735.7 854.0 1736.0 864.9 1738.7 873.9 1737.9 885.4 1741.4 912.4 1729.1 917.7 1728.2 922.8 1730.0 926.3 1734.0 929.9 1747.9 934.0 1752.8 940.2 1750.8 945.7 1751.5 948.1 1753.0 956.1 1763.1 963.1 1770.7 969.0 1768.1 973.9 1768.1 986.9 1774.8 993.4 1770.7 996.1 1770.0 1001.5 1770.9 1014.6 1780.9 1021.8 1789.3 1028.3 1787.2 1031.4 1787.3 1042.1 1789.5 1047.1 1791.9 1057.0 1793.3 1069.8 1798.6 1082.4 1808.2 1087.4 1810.9 1095.7 1805.2 1102.2 1803.6 1105.8 1792.3 1109.7 1788.5 1112.3 1787.5 1115.1 1787.1 1120.4 1788.6 1128.0 1795.6 1130.7 1797.1 1136.1 1793.7 1146.0 1783.8 1150.7 1781.1 1156.2 1781.0 1166.6 1783.6 1177.8 1781.2 1185.2 1777.5 1189.3 1764.6 1193.0 1760.8 1198.2 1759.3 1200.8 1759.5 1208.5 1763.0 1210.6 1756.2 1214.6 1752.2 1220.0 1750.7 1227.1 1750.7 1231.2 1747.7 1236.5 1738.8 1240.2 1735.1 1256.3 1730.3 1259.2 1730.7 1262.0 1731.9 1269.5 1736.4 1277.3 1735.8 1280.2 1736.7 1282.7 1738.2 1284.7 1740.5 1290.2 1749.4 1291.8 1768.7 1294.5 1783.3 1298.9 1790.7 1308.1 1798.0 1314.3 1805.9 1319.9 1802.5 1334.9 1798.2 1345.6 1797.8 1351.5 1794.3 1358.4 1783.6 1360.8 1781.9 1363.6 1780.9 1366.6 1780.7 1369.5 1781.4 1372.2 1782.8 1386.2 1794.0 1393.2 1793.0 1410.0 1779.1 1420.1 1769.4 1424.8 1767.9 1435.3 1767.0 1446.0 1760.7 1448.8 1759.6 1451.8 1759.3 1454.7 1759.8 1457.4 1761.1 1459.6 1763.1 1461.2 1765.6 1463.8 1780.6 1473.9 1764.5 1478.4 1761.8 1481.1 1761.4 1486.2 1762.5 1495.2 1767.0 1503.9 1767.9 1507.7 1769.0 1516.2 1773.2 1519.9 1776.3 1526.6 1784.9 1546.8 1781.8 1559.8 1783.4 1562.0 1784.3 1565.8 1787.6 1568.0 1785.9 1574.5 1777.4 1591.9 1760.6 1594.6 1759.5 1597.6 1759.3 1605.8 1761.5 1612.9 1754.0 1617.0 1751.3 1630.5 1749.7 1633.1 1750.3 1637.3 1753.2 1650.6 1769.1 1656.5 1770.5 1661.9 1768.5 1667.4 1768.0 1672.4 1770.1 1696.2 1800.0 1703.8 1803.9 1712.0 1809.7 1718.6 1819.9 1725.0 1819.4 1734.1 1815.2 1739.5 1815.4 1744.0 1818.1 1752.6 1826.7 1755.7 1831.1 1759.2 1826.3 1761.6 1824.7 1775.0 1821.6 1778.0 1821.4 1781.0 1822.1 1783.6 1823.5 1791.5 1829.5 1800.2 1834.1 1806.8 1832.8 1826.7 1818.0 1831.9 1816.1 1847.5 1818.3 1858.6 1821.1 1864.5 1819.6 1870.2 1819.7 1877.4 1823.8 1882.3 1821.9 1888.4 1815.0 1896.0 1803.1 1904.5 1794.5 1909.5 1791.7 1915.3 1791.9 1925.7 1798.0 1931.9 1796.3 1942.3 1791.6 1945.3 1791.4 1948.2 1792.1 1950.8 1793.6 1958.3 1802.9 1961.4 1786.8 1963.1 1784.2 1965.4 1782.3 1968.2 1781.1 1990.2 1775.3 2004.8 1761.0 2020.3 1755.0 2036.1 1757.3 2047.9 1760.7 2059.5 1759.4 2068.3 1763.2 2077.0 1758.5 2090.5 1752.4 2099.1 1749.2 2102.1 1748.6 2105.1 1748.8 2108.0 1749.8 2110.5 1751.7 2119.9 1761.2 2125.1 1763.7 2133.3 1764.4 2146.3 1759.4 2149.0 1759.3 2154.0 1761.2 2157.5 1765.2 2165.4 1781.1 2171.1 1787.7 2175.9 1786.7 2185.5 1781.1 2191.2 1781.0 2196.2 1783.8 2205.7 1792.7 2207.4 1791.3 2214.1 1774.5 2216.0 1772.4 2221.1 1770.1 2234.6 1771.1 2237.8 1771.9 2249.1 1781.1 2256.7 1776.7 2266.9 1774.1 2273.2 1768.5 2274.0 1765.4 2274.0 1754.6 2266.4 1736.4 2261.0 1735.3 2249.5 1736.8 2233.6 1737.7 2230.8 1736.7 2226.1 1732.8 2221.2 1746.8 2217.0 1750.7 2214.2 1751.6 2208.5 1751.2 2199.9 1745.6 2194.1 1747.5 2189.1 1746.9 2183.4 1744.7 2175.7 1746.3 2172.7 1746.4 2169.7 1745.8 2167.1 1744.3 2165.0 1742.1 2158.6 1726.3 2153.8 1723.9 2149.9 1720.7 2143.2 1705.7 2140.6 1703.4 2137.7 1705.4 2129.7 1713.3 2125.2 1716.0 2122.5 1716.5 2117.3 1715.3 2102.9 1708.1 2097.8 1710.6 2087.9 1717.7 2083.0 1718.6 2071.8 1715.6 2063.2 1716.4 2057.5 1715.4 2053.2 1711.7 2048.2 1704.1 2046.5 1706.6 2042.1 1709.4 2039.5 1710.0 2032.1 1709.1 2022.8 1719.1 2012.3 1725.5 1996.8 1727.9 1989.2 1731.7 1979.4 1740.9 1976.4 1742.0 1973.3 1742.1 1963.4 1738.7 1953.4 1742.4 1945.1 1754.4 1940.5 1756.9 1931.9 1759.0 1927.5 1759.2 1917.7 1757.5 1904.9 1762.5 1896.3 1763.5 1893.4 1763.5 1890.5 1762.6 1888.0 1761.0 1886.1 1758.8 1877.5 1746.0 1875.0 1740.1 1871.1 1755.5 1868.6 1760.1 1864.2 1763.0 1861.6 1763.6 1856.4 1762.7 1851.2 1760.4 1840.5 1767.3 1831.2 1770.5 1813.7 1795.5 1809.7 1798.9 1804.6 1800.0 1801.9 1799.6 1797.4 1796.9 1783.4 1782.6 1773.2 1782.9 1767.6 1781.5 1758.8 1773.3 1755.6 1767.9 1752.7 1770.6 1739.0 1778.3 1735.8 1778.6 1732.7 1777.9 1721.5 1773.3 1718.0 1768.9 1715.4 1752.2 1713.6 1749.4 1708.6 1755.0 1697.3 1762.9 1694.3 1763.6 1691.3 1763.4 1688.4 1762.3 1675.7 1750.2 1666.3 1742.7 1658.5 1738.8 1647.7 1737.9 1642.4 1735.9 1638.8 1731.6 1636.6 1720.8 1634.0 1719.1 1610.1 1724.8 1606.1 1724.9 1596.7 1723.3 1594.0 1724.6 1589.2 1732.7 1585.1 1736.6 1579.5 1737.9 1573.4 1737.6 1567.6 1740.1 1561.0 1748.4 1556.1 1750.6 1553.4 1750.7 1548.3 1748.9 1538.6 1742.5 1526.9 1743.1 1510.9 1736.8 1496.2 1729.1 1485.8 1717.1 1478.6 1714.7 1470.7 1716.3 1467.7 1716.4 1464.9 1715.8 1462.3 1714.4 1460.1 1712.4 1453.0 1703.4 1449.8 1707.3 1442.4 1721.3 1431.2 1729.6 1423.7 1739.9 1421.6 1742.1 1419.0 1743.6 1384.2 1757.1 1378.9 1756.4 1362.0 1749.7 1354.1 1755.6 1340.8 1763.2 1335.3 1763.3 1326.8 1761.3 1317.2 1762.5 1308.7 1761.4 1306.0 1760.7 1301.7 1757.5 1294.6 1743.0 1291.2 1739.2 1290.1 1736.8 1284.7 1688.6 1281.3 1684.3 1272.9 1684.0 1270.3 1682.9 1265.0 1678.1 1259.6 1682.9 1246.6 1686.6 1229.3 1701.9 1208.7 1712.7 1196.5 1722.0 1191.1 1722.8 1182.7 1720.2 1158.5 1741.7 1145.5 1748.5 1142.7 1749.5 1139.6 1749.6 1126.4 1748.0 1122.1 1745.1 1116.9 1736.1 1108.6 1746.4 1106.0 1747.9 1103.1 1748.6 1100.1 1748.4 1097.3 1747.4 1094.2 1745.0 1091.1 1751.2 1088.7 1753.3 1077.9 1760.2 1072.8 1761.9 1057.2 1759.1 1054.1 1758.0 1046.6 1750.8 1042.8 1752.6 1040.0 1752.9 1037.3 1752.5 1033.7 1750.7 1029.6 1750.0 1017.3 1744.9 1007.0 1738.7 995.0 1732.7 985.2 1733.6 981.2 1733.2 968.2 1728.9 964.6 1725.5 959.9 1713.4 956.5 1709.5 948.1 1705.9 935.7 1697.3 925.5 1691.5 918.0 1685.5 910.0 1688.2 899.5 1686.0 886.5 1691.6 872.2 1700.8 866.8 1702.5 861.3 1701.3 859.0 1699.6 857.2 1697.4 854.7 1689.7 852.3 1687.3 845.4 1694.7 837.9 1709.6 833.9 1723.7 832.7 1726.4 830.7 1728.7 828.2 1730.4 825.4 1731.3 810.8 1730.1 803.1 1734.4 797.7 1735.7 792.3 1734.2 786.7 1730.8 776.3 1735.6 770.6 1735.1 768.0 1733.7 764.4 1729.2 758.1 1714.5 750.6 1699.5 744.6 1694.1 737.8 1694.4 724.0 1706.4 709.0 1714.9 691.8 1716.8 678.5 1717.4 665.5 1723.9 660.7 1725.0 647.9 1725.0 633.0 1722.1 619.6 1725.0 616.7 1724.5 608.7 1719.7 599.1 1716.1 592.7 1716.5 587.7 1715.5 583.7 1712.4 577.6 1704.8 568.3 1702.6 559.1 1695.5 540.4 1702.8 535.4 1703.6 530.6 1701.9 524.6 1696.1 518.5 1702.0 513.4 1703.6 510.6 1703.4 490.9 1693.9 488.5 1692.3 486.1 1688.9 475.5 1704.7 460.6 1719.2 455.8 1720.7 443.5 1719.0 428.9 1724.9 423.7 1724.5 415.1 1721.6 414.3 1722.0 408.1 1737.6 404.1 1741.1 401.5 1741.9 398.9 1742.2 393.8 1740.6 383.0 1734.2 380.0 1731.4 367.1 1738.1 357.6 1747.6 352.8 1750.4 343.6 1750.8 340.3 1750.3 337.4 1748.8 331.4 1741.8 325.3 1753.4 322.0 1757.3 317.1 1759.2 304.8 1760.9 292.1 1763.6 287.1 1762.4 283.3 1758.9 276.9 1742.7 272.1 1739.5 260.5 1745.3 254.9 1746.4 237.8 1740.7 229.2 1738.9 222.0 1746.1Z" fill="#ff0000" stroke="#ff0000" stroke-width="11.5" stroke-linejoin="round"/><path d="M225.7 1737.9v21.5M272.9 1737.9v21.5M332.9 1736.8v21.5M380.6 1713.9v21.5M414.3 1720.8v21.5M442.1 1718.6v21.5M487.1 1668.2v21.5M524.6 1691.2v21.5M561.1 1694.0v21.5M600.7 1716.0v21.5M632.9 1721.8v21.5M748.6 1694.0v21.5M787.1 1729.3v21.5M808.6 1729.8v21.5M854.6 1684.8v21.5M898.6 1685.4v21.5M920.0 1683.9v21.5M997.1 1732.5v21.5M1040.0 1748.6v21.5M1048.6 1748.2v21.5M1092.5 1732.5v21.5M1118.2 1726.8v21.5M1180.4 1718.6v21.5M1265.0 1673.6v21.5M1286.4 1684.3v21.5M1327.1 1761.0v21.5M1360.4 1748.2v21.5M1450.4 1700.4v21.5M1479.3 1714.3v21.5M1541.4 1742.2v21.5M1571.4 1737.5v21.5M1595.0 1722.9v21.5M1635.7 1718.2v21.5M1715.0 1741.8v21.5M1757.4 1756.1v21.5M1787.9 1782.5v21.5M1850.0 1758.9v21.5M1873.6 1732.5v21.5M1880.0 1733.6v21.5M1916.4 1757.2v21.5M1963.6 1737.9v21.5M2027.9 1708.3v21.5M2048.2 1692.5v21.5M2072.9 1715.4v21.5M2102.9 1706.8v21.5M2141.4 1700.4v21.5M2184.3 1744.3v21.5M2201.4 1744.3v21.5M2226.1 1728.9v21.5M2261.4 1735.1v21.5M249.3 1791.8v-21.5M298.6 1803.2v-21.5M318.9 1802.1v-21.5M350.0 1795.7v-21.5M411.1 1776.8v-21.5M453.9 1761.8v-21.5M494.6 1758.2v-21.5M536.4 1770.0v-21.5M571.8 1747.5v-21.5M628.6 1776.0v-21.5M668.2 1779.0v-21.5M696.1 1790.3v-21.5M789.3 1790.3v-21.5M864.3 1738.9v-21.5M885.7 1742.1v-21.5M930.7 1755.0v-21.5M960.7 1773.2v-21.5M987.5 1776.8v-21.5M1018.6 1791.4v-21.5M1088.2 1812.8v-21.5M1131.1 1798.9v-21.5M1166.4 1783.9v-21.5M1209.3 1764.6v-21.5M1230.7 1750.7v-21.5M1267.1 1736.8v-21.5M1312.1 1810.7v-21.5M1348.6 1797.8v-21.5M1382.9 1794.6v-21.5M1460.0 1783.9v-21.5M1522.1 1786.0v-21.5M1565.0 1791.0v-21.5M1608.9 1763.1v-21.5M1657.1 1771.0v-21.5M1712.9 1820.3v-21.5M1755.7 1840.2v-21.5M1798.6 1834.7v-21.5M1858.6 1821.4v-21.5M1875.7 1824.6v-21.5M1923.9 1798.9v-21.5M1959.3 1808.5v-21.5M2047.1 1761.0v-21.5M2068.6 1764.6v-21.5M2135.0 1764.6v-21.5M2167.1 1788.8v-21.5M2205.7 1795.7v-21.5M2248.6 1783.9v-21.5" fill="none" stroke="#ff0000" stroke-width="8.5"/><path d="M223.6 1767.2h0M231.3 1780.5h0M243.2 1785.6h0M252.4 1787.3h0M266.9 1781.7h0M282.7 1787.4h0M287.3 1799.1h0M302.7 1797.9h0M311.7 1796.2h0M324.0 1797.1h0M334.2 1793.9h0M347.8 1794.4h0M355.1 1781.7h0M366.3 1768.7h0M378.4 1761.3h0M394.8 1763.4h0M403.7 1771.4h0M411.1 1774.7h0M422.0 1766.5h0M434.7 1757.2h0M449.9 1757.8h0M457.5 1756.0h0M465.9 1748.2h0M475.4 1742.3h0M487.6 1747.6h0M498.1 1750.1h0M506.4 1742.6h0M515.4 1744.3h0M530.4 1753.7h0M537.1 1761.3h0M540.5 1745.1h0M548.0 1740.0h0M559.5 1738.4h0M569.3 1740.9h0M585.0 1746.7h0M595.1 1748.1h0M605.2 1750.1h0M615.3 1754.4h0M625.9 1767.2h0M632.1 1767.9h0M650.1 1764.1h0M659.6 1771.0h0M672.5 1775.7h0M682.7 1772.2h0M691.8 1778.8h0M699.4 1778.8h0M712.0 1765.1h0M719.2 1756.4h0M727.4 1747.4h0M736.8 1747.4h0M747.4 1750.0h0M757.7 1757.5h0M769.0 1766.0h0M780.1 1775.0h0M787.6 1784.9h0M793.7 1780.5h0M804.2 1771.5h0M814.8 1765.1h0M825.5 1759.2h0M835.9 1745.0h0M847.9 1736.3h0M856.9 1736.7h0M875.1 1738.2h0M892.6 1738.1h0M904.4 1732.8h0M922.0 1729.7h0M927.3 1737.8h0M935.2 1752.4h0M945.6 1751.5h0M957.4 1764.5h0M969.9 1768.1h0M986.8 1774.8h0M997.5 1770.3h0M1010.7 1777.9h0M1024.1 1788.5h0M1034.1 1787.9h0M1044.5 1790.7h0M1058.6 1794.0h0M1068.1 1797.9h0M1076.0 1803.3h0M1083.3 1808.7h0M1093.9 1806.4h0M1104.2 1797.3h0M1112.4 1787.4h0M1125.4 1793.3h0M1132.9 1795.7h0M1140.5 1789.3h0M1152.2 1781.0h0M1162.6 1782.6h0M1171.5 1782.6h0M1180.6 1779.8h0M1188.3 1767.6h0M1202.7 1760.3h0M1210.9 1755.9h0M1218.3 1751.1h0M1228.8 1749.4h0M1238.2 1737.0h0M1253.8 1731.1h0M1264.1 1733.1h0M1276.9 1735.8h0M1284.6 1740.5h0M1290.5 1753.3h0M1292.0 1769.8h0M1294.6 1783.5h0M1305.6 1796.0h0M1313.1 1804.4h0M1326.7 1800.6h0M1340.1 1798.0h0M1352.9 1792.0h0M1358.2 1783.9h0M1370.6 1782.0h0M1382.7 1791.2h0M1393.0 1793.1h0M1404.2 1783.9h0M1411.2 1777.9h0M1420.9 1769.1h0M1438.6 1765.0h0M1452.6 1759.4h0M1461.7 1768.5h0M1466.7 1776.0h0M1475.9 1763.3h0M1489.1 1764.0h0M1501.1 1767.6h0M1517.3 1774.2h0M1527.0 1784.9h0M1540.7 1782.8h0M1553.3 1782.6h0M1563.2 1785.4h0M1570.8 1782.2h0M1581.0 1771.2h0M1591.3 1761.2h0M1606.8 1760.5h0M1616.8 1751.5h0M1629.5 1749.8h0M1641.0 1757.6h0M1648.4 1766.4h0M1665.2 1768.2h0M1677.2 1776.2h0M1684.7 1785.6h0M1693.4 1796.4h0M1707.3 1806.4h0M1719.2 1819.8h0M1734.3 1815.2h0M1749.2 1823.3h0M1760.0 1825.8h0M1772.0 1822.3h0M1784.5 1824.2h0M1795.8 1831.8h0M1804.6 1833.3h0M1817.0 1825.2h0M1829.0 1817.1h0M1845.5 1818.0h0M1857.6 1820.8h0M1875.4 1822.6h0M1888.2 1815.3h0M1896.2 1802.9h0M1904.1 1794.9h0M1920.7 1795.1h0M1935.2 1794.8h0M1949.5 1792.9h0M1956.7 1801.0h0M1959.9 1794.5h0M1963.1 1784.2h0M1980.0 1778.0h0M1992.2 1773.3h0M2003.7 1762.1h0M2018.2 1755.8h0M2035.0 1757.1h0M2046.4 1760.3h0M2057.3 1759.6h0M2074.3 1760.0h0M2083.7 1755.5h0M2101.4 1748.7h0M2112.7 1753.9h0M2119.2 1760.4h0M2130.2 1764.2h0M2146.0 1759.5h0M2157.0 1764.7h0M2161.8 1773.9h0M2166.5 1782.4h0M2173.6 1787.2h0M2186.7 1781.1h0M2198.0 1785.5h0M2208.5 1788.4h0M2212.3 1778.9h0M2219.9 1770.7h0M2234.3 1771.1h0M2244.5 1777.3h0M2257.9 1776.4h0M2268.6 1772.6h0M2274.0 1758.3h0M2269.4 1743.6h0M2261.2 1735.3h0M2245.2 1737.0h0M2232.8 1737.4h0M2222.8 1742.3h0M2211.3 1751.4h0M2200.9 1746.3h0M2184.2 1745.0h0M2169.3 1745.5h0M2160.4 1730.9h0M2149.6 1720.0h0M2141.4 1704.1h0M2130.7 1712.3h0M2119.6 1715.8h0M2104.7 1709.0h0M2089.2 1716.7h0M2075.7 1716.6h0M2059.7 1715.8h0M2049.3 1705.7h0M2040.1 1709.9h0M2030.1 1711.3h0M2019.0 1721.4h0M2009.4 1725.9h0M1996.2 1728.2h0M1982.7 1737.8h0M1971.4 1741.5h0M1958.9 1740.4h0M1946.1 1753.0h0M1932.7 1758.8h0M1918.5 1757.7h0M1908.2 1761.2h0M1892.1 1763.1h0M1883.2 1754.6h0M1875.2 1740.6h0M1870.2 1757.3h0M1855.6 1762.4h0M1845.8 1763.9h0M1830.0 1772.2h0M1821.0 1785.0h0M1814.9 1793.9h0M1807.6 1799.4h0M1797.1 1796.6h0M1786.7 1786.0h0M1774.3 1782.9h0M1766.0 1780.0h0M1753.9 1769.5h0M1745.7 1774.5h0M1729.6 1776.7h0M1718.3 1769.3h0M1715.4 1752.6h0M1703.8 1758.4h0M1689.4 1762.7h0M1679.9 1754.2h0M1669.2 1745.0h0M1659.7 1739.4h0M1648.3 1737.9h0M1640.5 1733.7h0M1636.8 1721.8h0M1620.5 1722.3h0M1604.7 1724.6h0M1595.3 1724.0h0M1588.0 1733.8h0M1575.9 1737.7h0M1564.3 1744.3h0M1552.6 1750.4h0M1537.5 1742.5h0M1526.6 1743.0h0M1512.2 1737.3h0M1498.4 1730.3h0M1491.9 1724.1h0M1484.6 1716.7h0M1474.9 1715.4h0M1460.8 1713.0h0M1449.7 1707.4h0M1440.7 1722.6h0M1427.9 1734.1h0M1417.8 1744.0h0M1403.6 1749.5h0M1389.1 1755.2h0M1377.6 1755.9h0M1364.7 1750.8h0M1356.1 1754.2h0M1345.6 1760.5h0M1333.7 1762.9h0M1315.4 1762.2h0M1304.7 1759.7h0M1297.2 1748.4h0M1292.2 1740.3h0M1289.5 1731.4h0M1287.9 1717.3h0M1286.3 1702.5h0M1284.5 1688.4h0M1268.5 1681.2h0M1257.9 1683.4h0M1243.9 1688.9h0M1230.7 1700.7h0M1221.8 1705.8h0M1207.2 1713.8h0M1199.0 1720.1h0M1182.4 1720.4h0M1170.0 1731.5h0M1157.2 1742.3h0M1141.3 1749.6h0M1131.9 1748.7h0M1122.9 1745.6h0M1115.7 1737.6h0M1109.7 1745.1h0M1094.0 1745.5h0M1087.7 1754.0h0M1078.1 1760.1h0M1062.3 1760.0h0M1053.0 1756.9h0M1038.2 1752.6h0M1026.4 1748.7h0M1013.5 1742.6h0M998.2 1734.3h0M988.9 1733.3h0M977.5 1732.0h0M966.0 1726.9h0M959.2 1712.6h0M949.3 1706.4h0M938.3 1699.1h0M928.8 1693.4h0M916.6 1686.0h0M903.9 1686.9h0M889.5 1690.4h0M881.6 1694.8h0M868.9 1701.9h0M855.7 1692.7h0M849.0 1690.8h0M842.7 1700.1h0M836.3 1715.4h0M833.1 1725.4h0M821.4 1731.0h0M808.7 1731.3h0M798.9 1735.4h0M787.7 1731.4h0M771.9 1735.2h0M762.3 1724.3h0M757.7 1713.8h0M751.1 1700.4h0M735.5 1696.5h0M727.5 1703.4h0M713.9 1712.1h0M704.3 1715.4h0M692.7 1716.7h0M682.6 1717.2h0M668.9 1722.2h0M653.9 1725.0h0M637.9 1723.1h0M623.3 1724.2h0M609.6 1720.2h0M599.5 1716.3h0M588.0 1715.6h0M580.6 1708.5h0M564.7 1699.8h0M556.5 1696.5h0M540.2 1702.9h0M528.5 1699.9h0M515.1 1703.1h0M502.7 1699.5h0M487.1 1690.2h0M477.9 1701.1h0M466.6 1713.3h0M459.5 1719.5h0M444.1 1719.1h0M435.4 1722.2h0M421.0 1723.6h0M412.2 1727.4h0M408.3 1737.1h0M396.5 1741.5h0M385.8 1735.9h0M374.4 1734.3h0M362.2 1743.0h0M354.4 1749.5h0M341.0 1750.4h0M331.4 1741.9h0M322.0 1757.3h0M304.1 1761.0h0M292.6 1763.5h0M282.6 1757.3h0M277.6 1744.6h0M268.2 1741.5h0M250.9 1745.1h0M234.1 1739.9h0M225.1 1742.9h0M222.0 1758.9h0M225.7 1737.9h0M272.9 1737.9h0M332.9 1736.8h0M380.6 1713.9h0M414.3 1720.8h0M442.1 1718.6h0M487.1 1668.2h0M524.6 1691.2h0M561.1 1694.0h0M600.7 1716.0h0M632.9 1721.8h0M748.6 1694.0h0M787.1 1729.3h0M808.6 1729.8h0M854.6 1684.8h0M898.6 1685.4h0M920.0 1683.9h0M997.1 1732.5h0M1040.0 1748.6h0M1048.6 1748.2h0M1092.5 1732.5h0M1118.2 1726.8h0M1180.4 1718.6h0M1265.0 1673.6h0M1286.4 1684.3h0M1327.1 1761.0h0M1360.4 1748.2h0M1450.4 1700.4h0M1479.3 1714.3h0M1541.4 1742.2h0M1571.4 1737.5h0M1595.0 1722.9h0M1635.7 1718.2h0M1715.0 1741.8h0M1757.4 1756.1h0M1787.9 1782.5h0M1850.0 1758.9h0M1873.6 1732.5h0M1880.0 1733.6h0M1916.4 1757.2h0M1963.6 1737.9h0M2027.9 1708.3h0M2048.2 1692.5h0M2072.9 1715.4h0M2102.9 1706.8h0M2141.4 1700.4h0M2184.3 1744.3h0M2201.4 1744.3h0M2226.1 1728.9h0M2261.4 1735.1h0M249.3 1791.8h0M298.6 1803.2h0M318.9 1802.1h0M350.0 1795.7h0M411.1 1776.8h0M453.9 1761.8h0M494.6 1758.2h0M536.4 1770.0h0M571.8 1747.5h0M628.6 1776.0h0M668.2 1779.0h0M696.1 1790.3h0M789.3 1790.3h0M864.3 1738.9h0M885.7 1742.1h0M930.7 1755.0h0M960.7 1773.2h0M987.5 1776.8h0M1018.6 1791.4h0M1088.2 1812.8h0M1131.1 1798.9h0M1166.4 1783.9h0M1209.3 1764.6h0M1230.7 1750.7h0M1267.1 1736.8h0M1312.1 1810.7h0M1348.6 1797.8h0M1382.9 1794.6h0M1460.0 1783.9h0M1522.1 1786.0h0M1565.0 1791.0h0M1608.9 1763.1h0M1657.1 1771.0h0M1712.9 1820.3h0M1755.7 1840.2h0M1798.6 1834.7h0M1858.6 1821.4h0M1875.7 1824.6h0M1923.9 1798.9h0M1959.3 1808.5h0M2047.1 1761.0h0M2068.6 1764.6h0M2135.0 1764.6h0M2167.1 1788.8h0M2205.7 1795.7h0M2248.6 1783.9h0" fill="none" stroke="#ff0000" stroke-width="21.5" stroke-linecap="round"/></g>
<text class="t" x="193" y="1513.0" font-size="77.5" fill="#262626" text-anchor="end">10</text>
<text class="t" x="193" y="1753.5" font-size="77.5" fill="#262626" text-anchor="end">0</text>
<text class="t" x="193" y="1994.0" font-size="77.5" fill="#262626" text-anchor="end">-10</text>
<text class="t" x="220.8" y="2070.3" font-size="77.5" fill="#262626" text-anchor="middle">0</text>
<text class="t" x="648.3" y="2070.3" font-size="77.5" fill="#262626" text-anchor="middle">5</text>
<text class="t" x="1075.8" y="2070.3" font-size="77.5" fill="#262626" text-anchor="middle">10</text>
<text class="t" x="1503.3" y="2070.3" font-size="77.5" fill="#262626" text-anchor="middle">15</text>
<text class="t" x="1930.8" y="2070.3" font-size="77.5" fill="#262626" text-anchor="middle">20</text>
<text class="t" transform="translate(88 1723.5) rotate(-90)" font-size="70.2" fill="#262626" text-anchor="middle">U (meter)</text>
<path d="M285 1550.4 H476" stroke="#00ff00" stroke-width="8.5" fill="none"/><circle cx="380.3" cy="1550.4" r="10.8" fill="#00ff00"/>
<text x="488.6" y="1577.1" font-size="69.8" fill="#000" stroke="#000" stroke-width="1.3">BDS-2,RMS=1.818m</text>
<path d="M1168 1550.4 H1359.3" stroke="#ff0000" stroke-width="8.5" fill="none"/><circle cx="1263.7" cy="1550.4" r="10.8" fill="#ff0000"/>
<text x="1371.8" y="1577.1" font-size="69.8" fill="#000" stroke="#000" stroke-width="1.3">BDS-2+BDS-3,RMS=1.676m</text>
</g>
<text x="1252.4" y="106.3" font-size="76.2" font-weight="bold" fill="#000" stroke="#000" stroke-width="0.6" text-anchor="middle">Coordinate Error</text>
<text class="t" x="1251" y="2180" font-size="82.5" fill="#262626" text-anchor="middle" xml:space="preserve">Time (hour)  2019/01/13</text>
</svg></body></html>
